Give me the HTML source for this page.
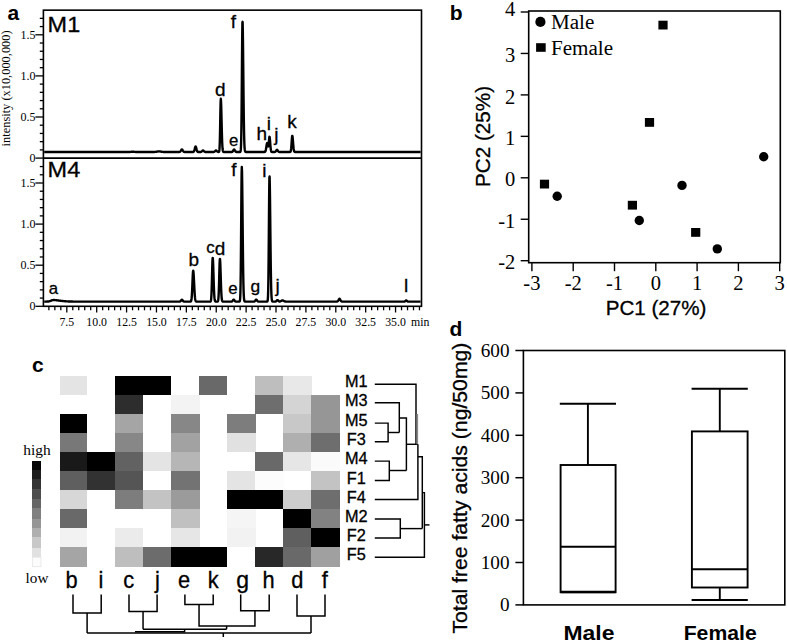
<!DOCTYPE html>
<html><head><meta charset="utf-8"><style>
html,body{margin:0;padding:0;background:#fff;width:787px;height:642px;overflow:hidden}
svg{display:block}
</style></head><body>
<svg width="787" height="642" viewBox="0 0 787 642">
<rect width="787" height="642" fill="#fff"/>
<text x="7.60" y="19.60" font-family='"Liberation Sans", sans-serif' font-size="21" text-anchor="start" font-weight="bold" >a</text>
<rect x="43.4" y="10.15" width="378.10" height="296.15" fill="none" stroke="#000" stroke-width="1.6"/>
<line x1="43.40" y1="158.10" x2="421.50" y2="158.10" stroke="#000" stroke-width="1.9"/>
<line x1="35.40" y1="158.10" x2="43.40" y2="158.10" stroke="#000" stroke-width="1.3"/>
<line x1="39.80" y1="149.88" x2="43.40" y2="149.88" stroke="#000" stroke-width="1.3"/>
<line x1="39.80" y1="141.66" x2="43.40" y2="141.66" stroke="#000" stroke-width="1.3"/>
<line x1="39.80" y1="133.44" x2="43.40" y2="133.44" stroke="#000" stroke-width="1.3"/>
<line x1="39.80" y1="125.22" x2="43.40" y2="125.22" stroke="#000" stroke-width="1.3"/>
<line x1="35.40" y1="117.00" x2="43.40" y2="117.00" stroke="#000" stroke-width="1.3"/>
<line x1="39.80" y1="108.78" x2="43.40" y2="108.78" stroke="#000" stroke-width="1.3"/>
<line x1="39.80" y1="100.56" x2="43.40" y2="100.56" stroke="#000" stroke-width="1.3"/>
<line x1="39.80" y1="92.34" x2="43.40" y2="92.34" stroke="#000" stroke-width="1.3"/>
<line x1="39.80" y1="84.12" x2="43.40" y2="84.12" stroke="#000" stroke-width="1.3"/>
<line x1="35.40" y1="75.90" x2="43.40" y2="75.90" stroke="#000" stroke-width="1.3"/>
<line x1="39.80" y1="67.68" x2="43.40" y2="67.68" stroke="#000" stroke-width="1.3"/>
<line x1="39.80" y1="59.46" x2="43.40" y2="59.46" stroke="#000" stroke-width="1.3"/>
<line x1="39.80" y1="51.24" x2="43.40" y2="51.24" stroke="#000" stroke-width="1.3"/>
<line x1="39.80" y1="43.02" x2="43.40" y2="43.02" stroke="#000" stroke-width="1.3"/>
<line x1="35.40" y1="34.80" x2="43.40" y2="34.80" stroke="#000" stroke-width="1.3"/>
<line x1="39.80" y1="26.58" x2="43.40" y2="26.58" stroke="#000" stroke-width="1.3"/>
<line x1="39.80" y1="18.36" x2="43.40" y2="18.36" stroke="#000" stroke-width="1.3"/>
<text x="35.60" y="162.10" font-family='"Liberation Serif", serif' font-size="12" text-anchor="end" font-weight="normal" >0</text>
<text x="35.60" y="121.00" font-family='"Liberation Serif", serif' font-size="12" text-anchor="end" font-weight="normal" >0.5</text>
<text x="35.60" y="79.90" font-family='"Liberation Serif", serif' font-size="12" text-anchor="end" font-weight="normal" >1.0</text>
<text x="35.60" y="38.80" font-family='"Liberation Serif", serif' font-size="12" text-anchor="end" font-weight="normal" >1.5</text>
<line x1="35.40" y1="306.30" x2="43.40" y2="306.30" stroke="#000" stroke-width="1.3"/>
<line x1="39.80" y1="298.08" x2="43.40" y2="298.08" stroke="#000" stroke-width="1.3"/>
<line x1="39.80" y1="289.86" x2="43.40" y2="289.86" stroke="#000" stroke-width="1.3"/>
<line x1="39.80" y1="281.64" x2="43.40" y2="281.64" stroke="#000" stroke-width="1.3"/>
<line x1="39.80" y1="273.42" x2="43.40" y2="273.42" stroke="#000" stroke-width="1.3"/>
<line x1="35.40" y1="265.20" x2="43.40" y2="265.20" stroke="#000" stroke-width="1.3"/>
<line x1="39.80" y1="256.98" x2="43.40" y2="256.98" stroke="#000" stroke-width="1.3"/>
<line x1="39.80" y1="248.76" x2="43.40" y2="248.76" stroke="#000" stroke-width="1.3"/>
<line x1="39.80" y1="240.54" x2="43.40" y2="240.54" stroke="#000" stroke-width="1.3"/>
<line x1="39.80" y1="232.32" x2="43.40" y2="232.32" stroke="#000" stroke-width="1.3"/>
<line x1="35.40" y1="224.10" x2="43.40" y2="224.10" stroke="#000" stroke-width="1.3"/>
<line x1="39.80" y1="215.88" x2="43.40" y2="215.88" stroke="#000" stroke-width="1.3"/>
<line x1="39.80" y1="207.66" x2="43.40" y2="207.66" stroke="#000" stroke-width="1.3"/>
<line x1="39.80" y1="199.44" x2="43.40" y2="199.44" stroke="#000" stroke-width="1.3"/>
<line x1="39.80" y1="191.22" x2="43.40" y2="191.22" stroke="#000" stroke-width="1.3"/>
<line x1="35.40" y1="183.00" x2="43.40" y2="183.00" stroke="#000" stroke-width="1.3"/>
<line x1="39.80" y1="174.78" x2="43.40" y2="174.78" stroke="#000" stroke-width="1.3"/>
<line x1="39.80" y1="166.56" x2="43.40" y2="166.56" stroke="#000" stroke-width="1.3"/>
<text x="35.60" y="310.30" font-family='"Liberation Serif", serif' font-size="12" text-anchor="end" font-weight="normal" >0</text>
<text x="35.60" y="269.20" font-family='"Liberation Serif", serif' font-size="12" text-anchor="end" font-weight="normal" >0.5</text>
<text x="35.60" y="228.10" font-family='"Liberation Serif", serif' font-size="12" text-anchor="end" font-weight="normal" >1.0</text>
<text x="35.60" y="187.00" font-family='"Liberation Serif", serif' font-size="12" text-anchor="end" font-weight="normal" >1.5</text>
<text transform="translate(9.8,88.4) rotate(-90)" x="0" y="0" font-family='"Liberation Serif", serif' font-size="12" text-anchor="middle" textLength="116" lengthAdjust="spacingAndGlyphs">intensity (x10,000,000)</text>
<line x1="48.87" y1="306.30" x2="48.87" y2="310.30" stroke="#000" stroke-width="1.3"/>
<line x1="54.84" y1="306.30" x2="54.84" y2="310.30" stroke="#000" stroke-width="1.3"/>
<line x1="60.82" y1="306.30" x2="60.82" y2="310.30" stroke="#000" stroke-width="1.3"/>
<line x1="66.80" y1="306.30" x2="66.80" y2="312.50" stroke="#000" stroke-width="1.3"/>
<line x1="72.78" y1="306.30" x2="72.78" y2="310.30" stroke="#000" stroke-width="1.3"/>
<line x1="78.75" y1="306.30" x2="78.75" y2="310.30" stroke="#000" stroke-width="1.3"/>
<line x1="84.73" y1="306.30" x2="84.73" y2="310.30" stroke="#000" stroke-width="1.3"/>
<line x1="90.71" y1="306.30" x2="90.71" y2="310.30" stroke="#000" stroke-width="1.3"/>
<line x1="96.69" y1="306.30" x2="96.69" y2="312.50" stroke="#000" stroke-width="1.3"/>
<line x1="102.66" y1="306.30" x2="102.66" y2="310.30" stroke="#000" stroke-width="1.3"/>
<line x1="108.64" y1="306.30" x2="108.64" y2="310.30" stroke="#000" stroke-width="1.3"/>
<line x1="114.62" y1="306.30" x2="114.62" y2="310.30" stroke="#000" stroke-width="1.3"/>
<line x1="120.60" y1="306.30" x2="120.60" y2="310.30" stroke="#000" stroke-width="1.3"/>
<line x1="126.57" y1="306.30" x2="126.57" y2="312.50" stroke="#000" stroke-width="1.3"/>
<line x1="132.55" y1="306.30" x2="132.55" y2="310.30" stroke="#000" stroke-width="1.3"/>
<line x1="138.53" y1="306.30" x2="138.53" y2="310.30" stroke="#000" stroke-width="1.3"/>
<line x1="144.51" y1="306.30" x2="144.51" y2="310.30" stroke="#000" stroke-width="1.3"/>
<line x1="150.49" y1="306.30" x2="150.49" y2="310.30" stroke="#000" stroke-width="1.3"/>
<line x1="156.46" y1="306.30" x2="156.46" y2="312.50" stroke="#000" stroke-width="1.3"/>
<line x1="162.44" y1="306.30" x2="162.44" y2="310.30" stroke="#000" stroke-width="1.3"/>
<line x1="168.42" y1="306.30" x2="168.42" y2="310.30" stroke="#000" stroke-width="1.3"/>
<line x1="174.39" y1="306.30" x2="174.39" y2="310.30" stroke="#000" stroke-width="1.3"/>
<line x1="180.37" y1="306.30" x2="180.37" y2="310.30" stroke="#000" stroke-width="1.3"/>
<line x1="186.35" y1="306.30" x2="186.35" y2="312.50" stroke="#000" stroke-width="1.3"/>
<line x1="192.33" y1="306.30" x2="192.33" y2="310.30" stroke="#000" stroke-width="1.3"/>
<line x1="198.31" y1="306.30" x2="198.31" y2="310.30" stroke="#000" stroke-width="1.3"/>
<line x1="204.28" y1="306.30" x2="204.28" y2="310.30" stroke="#000" stroke-width="1.3"/>
<line x1="210.26" y1="306.30" x2="210.26" y2="310.30" stroke="#000" stroke-width="1.3"/>
<line x1="216.24" y1="306.30" x2="216.24" y2="312.50" stroke="#000" stroke-width="1.3"/>
<line x1="222.21" y1="306.30" x2="222.21" y2="310.30" stroke="#000" stroke-width="1.3"/>
<line x1="228.19" y1="306.30" x2="228.19" y2="310.30" stroke="#000" stroke-width="1.3"/>
<line x1="234.17" y1="306.30" x2="234.17" y2="310.30" stroke="#000" stroke-width="1.3"/>
<line x1="240.15" y1="306.30" x2="240.15" y2="310.30" stroke="#000" stroke-width="1.3"/>
<line x1="246.12" y1="306.30" x2="246.12" y2="312.50" stroke="#000" stroke-width="1.3"/>
<line x1="252.10" y1="306.30" x2="252.10" y2="310.30" stroke="#000" stroke-width="1.3"/>
<line x1="258.08" y1="306.30" x2="258.08" y2="310.30" stroke="#000" stroke-width="1.3"/>
<line x1="264.06" y1="306.30" x2="264.06" y2="310.30" stroke="#000" stroke-width="1.3"/>
<line x1="270.04" y1="306.30" x2="270.04" y2="310.30" stroke="#000" stroke-width="1.3"/>
<line x1="276.01" y1="306.30" x2="276.01" y2="312.50" stroke="#000" stroke-width="1.3"/>
<line x1="281.99" y1="306.30" x2="281.99" y2="310.30" stroke="#000" stroke-width="1.3"/>
<line x1="287.97" y1="306.30" x2="287.97" y2="310.30" stroke="#000" stroke-width="1.3"/>
<line x1="293.94" y1="306.30" x2="293.94" y2="310.30" stroke="#000" stroke-width="1.3"/>
<line x1="299.92" y1="306.30" x2="299.92" y2="310.30" stroke="#000" stroke-width="1.3"/>
<line x1="305.90" y1="306.30" x2="305.90" y2="312.50" stroke="#000" stroke-width="1.3"/>
<line x1="311.88" y1="306.30" x2="311.88" y2="310.30" stroke="#000" stroke-width="1.3"/>
<line x1="317.86" y1="306.30" x2="317.86" y2="310.30" stroke="#000" stroke-width="1.3"/>
<line x1="323.83" y1="306.30" x2="323.83" y2="310.30" stroke="#000" stroke-width="1.3"/>
<line x1="329.81" y1="306.30" x2="329.81" y2="310.30" stroke="#000" stroke-width="1.3"/>
<line x1="335.79" y1="306.30" x2="335.79" y2="312.50" stroke="#000" stroke-width="1.3"/>
<line x1="341.76" y1="306.30" x2="341.76" y2="310.30" stroke="#000" stroke-width="1.3"/>
<line x1="347.74" y1="306.30" x2="347.74" y2="310.30" stroke="#000" stroke-width="1.3"/>
<line x1="353.72" y1="306.30" x2="353.72" y2="310.30" stroke="#000" stroke-width="1.3"/>
<line x1="359.70" y1="306.30" x2="359.70" y2="310.30" stroke="#000" stroke-width="1.3"/>
<line x1="365.68" y1="306.30" x2="365.68" y2="312.50" stroke="#000" stroke-width="1.3"/>
<line x1="371.65" y1="306.30" x2="371.65" y2="310.30" stroke="#000" stroke-width="1.3"/>
<line x1="377.63" y1="306.30" x2="377.63" y2="310.30" stroke="#000" stroke-width="1.3"/>
<line x1="383.61" y1="306.30" x2="383.61" y2="310.30" stroke="#000" stroke-width="1.3"/>
<line x1="389.59" y1="306.30" x2="389.59" y2="310.30" stroke="#000" stroke-width="1.3"/>
<line x1="395.56" y1="306.30" x2="395.56" y2="312.50" stroke="#000" stroke-width="1.3"/>
<line x1="401.54" y1="306.30" x2="401.54" y2="310.30" stroke="#000" stroke-width="1.3"/>
<line x1="407.52" y1="306.30" x2="407.52" y2="310.30" stroke="#000" stroke-width="1.3"/>
<line x1="413.50" y1="306.30" x2="413.50" y2="310.30" stroke="#000" stroke-width="1.3"/>
<line x1="419.47" y1="306.30" x2="419.47" y2="310.30" stroke="#000" stroke-width="1.3"/>
<text x="66.80" y="325.80" font-family='"Liberation Serif", serif' font-size="11.8" text-anchor="middle" font-weight="normal" >7.5</text>
<text x="96.69" y="325.80" font-family='"Liberation Serif", serif' font-size="11.8" text-anchor="middle" font-weight="normal" >10.0</text>
<text x="126.57" y="325.80" font-family='"Liberation Serif", serif' font-size="11.8" text-anchor="middle" font-weight="normal" >12.5</text>
<text x="156.46" y="325.80" font-family='"Liberation Serif", serif' font-size="11.8" text-anchor="middle" font-weight="normal" >15.0</text>
<text x="186.35" y="325.80" font-family='"Liberation Serif", serif' font-size="11.8" text-anchor="middle" font-weight="normal" >17.5</text>
<text x="216.24" y="325.80" font-family='"Liberation Serif", serif' font-size="11.8" text-anchor="middle" font-weight="normal" >20.0</text>
<text x="246.12" y="325.80" font-family='"Liberation Serif", serif' font-size="11.8" text-anchor="middle" font-weight="normal" >22.5</text>
<text x="276.01" y="325.80" font-family='"Liberation Serif", serif' font-size="11.8" text-anchor="middle" font-weight="normal" >25.0</text>
<text x="305.90" y="325.80" font-family='"Liberation Serif", serif' font-size="11.8" text-anchor="middle" font-weight="normal" >27.5</text>
<text x="335.79" y="325.80" font-family='"Liberation Serif", serif' font-size="11.8" text-anchor="middle" font-weight="normal" >30.0</text>
<text x="365.68" y="325.80" font-family='"Liberation Serif", serif' font-size="11.8" text-anchor="middle" font-weight="normal" >32.5</text>
<text x="395.56" y="325.80" font-family='"Liberation Serif", serif' font-size="11.8" text-anchor="middle" font-weight="normal" >35.0</text>
<text x="411.00" y="325.80" font-family='"Liberation Serif", serif' font-size="11.8" text-anchor="start" font-weight="normal" >min</text>
<polyline points="44.20,152.00 44.40,152.00 44.60,152.00 44.80,152.00 45.00,152.00 45.20,152.00 45.40,152.00 45.60,152.00 45.80,152.00 46.00,152.00 46.20,152.00 46.40,152.00 46.60,152.00 46.80,152.00 47.00,152.00 47.20,152.00 47.40,152.00 47.60,152.00 47.80,152.00 48.00,152.00 48.20,152.00 48.40,152.00 48.60,152.00 48.80,152.00 49.00,152.00 49.20,152.00 49.40,152.00 49.60,152.00 49.80,152.00 50.00,152.00 50.20,152.00 50.40,152.00 50.60,152.00 50.80,152.00 51.00,152.00 51.20,152.00 51.40,152.00 51.60,152.00 51.80,152.00 52.00,152.00 52.20,152.00 52.40,152.00 52.60,152.00 52.80,152.00 53.00,152.00 53.20,152.00 53.40,152.00 53.60,152.00 53.80,152.00 54.00,152.00 54.20,152.00 54.40,152.00 54.60,152.00 54.80,152.00 55.00,152.00 55.20,152.00 55.40,152.00 55.60,152.00 55.80,152.00 56.00,152.00 56.20,152.00 56.40,152.00 56.60,152.00 56.80,152.00 57.00,152.00 57.20,152.00 57.40,152.00 57.60,152.00 57.80,152.00 58.00,152.00 58.20,152.00 58.40,152.00 58.60,152.00 58.80,152.00 59.00,152.00 59.20,152.00 59.40,152.00 59.60,152.00 59.80,152.00 60.00,152.00 60.20,152.00 60.40,152.00 60.60,152.00 60.80,152.00 61.00,152.00 61.20,152.00 61.40,152.00 61.60,152.00 61.80,152.00 62.00,152.00 62.20,152.00 62.40,152.00 62.60,152.00 62.80,152.00 63.00,152.00 63.20,152.00 63.40,152.00 63.60,152.00 63.80,152.00 64.00,152.00 64.20,152.00 64.40,152.00 64.60,152.00 64.80,152.00 65.00,152.00 65.20,152.00 65.40,152.00 65.60,152.00 65.80,152.00 66.00,152.00 66.20,152.00 66.40,152.00 66.60,152.00 66.80,152.00 67.00,152.00 67.20,152.00 67.40,152.00 67.60,152.00 67.80,152.00 68.00,152.00 68.20,152.00 68.40,152.00 68.60,152.00 68.80,152.00 69.00,152.00 69.20,152.00 69.40,152.00 69.60,152.00 69.80,152.00 70.00,152.00 70.20,152.00 70.40,152.00 70.60,152.00 70.80,152.00 71.00,152.00 71.20,152.00 71.40,152.00 71.60,152.00 71.80,152.00 72.00,152.00 72.20,152.00 72.40,152.00 72.60,152.00 72.80,152.00 73.00,152.00 73.20,152.00 73.40,152.00 73.60,152.00 73.80,152.00 74.00,152.00 74.20,152.00 74.40,152.00 74.60,152.00 74.80,152.00 75.00,152.00 75.20,152.00 75.40,152.00 75.60,152.00 75.80,152.00 76.00,152.00 76.20,152.00 76.40,152.00 76.60,152.00 76.80,152.00 77.00,152.00 77.20,152.00 77.40,152.00 77.60,152.00 77.80,152.00 78.00,152.00 78.20,152.00 78.40,152.00 78.60,152.00 78.80,152.00 79.00,152.00 79.20,152.00 79.40,152.00 79.60,152.00 79.80,152.00 80.00,152.00 80.20,152.00 80.40,152.00 80.60,152.00 80.80,152.00 81.00,152.00 81.20,152.00 81.40,152.00 81.60,152.00 81.80,152.00 82.00,152.00 82.20,152.00 82.40,152.00 82.60,152.00 82.80,152.00 83.00,152.00 83.20,152.00 83.40,152.00 83.60,152.00 83.80,152.00 84.00,152.00 84.20,152.00 84.40,152.00 84.60,152.00 84.80,152.00 85.00,152.00 85.20,152.00 85.40,152.00 85.60,152.00 85.80,152.00 86.00,152.00 86.20,152.00 86.40,152.00 86.60,152.00 86.80,152.00 87.00,152.00 87.20,152.00 87.40,152.00 87.60,152.00 87.80,152.00 88.00,152.00 88.20,152.00 88.40,152.00 88.60,152.00 88.80,152.00 89.00,152.00 89.20,152.00 89.40,152.00 89.60,152.00 89.80,152.00 90.00,152.00 90.20,152.00 90.40,152.00 90.60,152.00 90.80,152.00 91.00,152.00 91.20,152.00 91.40,152.00 91.60,152.00 91.80,152.00 92.00,152.00 92.20,152.00 92.40,152.00 92.60,152.00 92.80,152.00 93.00,152.00 93.20,152.00 93.40,152.00 93.60,152.00 93.80,152.00 94.00,152.00 94.20,152.00 94.40,152.00 94.60,152.00 94.80,152.00 95.00,152.00 95.20,152.00 95.40,152.00 95.60,152.00 95.80,152.00 96.00,152.00 96.20,152.00 96.40,152.00 96.60,152.00 96.80,152.00 97.00,152.00 97.20,152.00 97.40,152.00 97.60,152.00 97.80,152.00 98.00,152.00 98.20,152.00 98.40,152.00 98.60,152.00 98.80,152.00 99.00,152.00 99.20,152.00 99.40,152.00 99.60,152.00 99.80,152.00 100.00,152.00 100.20,152.00 100.40,152.00 100.60,152.00 100.80,152.00 101.00,152.00 101.20,152.00 101.40,152.00 101.60,152.00 101.80,152.00 102.00,152.00 102.20,152.00 102.40,152.00 102.60,152.00 102.80,152.00 103.00,152.00 103.20,152.00 103.40,152.00 103.60,152.00 103.80,152.00 104.00,152.00 104.20,152.00 104.40,152.00 104.60,152.00 104.80,152.00 105.00,152.00 105.20,152.00 105.40,152.00 105.60,152.00 105.80,152.00 106.00,152.00 106.20,152.00 106.40,152.00 106.60,152.00 106.80,152.00 107.00,152.00 107.20,152.00 107.40,152.00 107.60,152.00 107.80,152.00 108.00,152.00 108.20,152.00 108.40,152.00 108.60,152.00 108.80,152.00 109.00,152.00 109.20,152.00 109.40,152.00 109.60,152.00 109.80,152.00 110.00,152.00 110.20,152.00 110.40,152.00 110.60,152.00 110.80,152.00 111.00,152.00 111.20,152.00 111.40,152.00 111.60,152.00 111.80,152.00 112.00,152.00 112.20,152.00 112.40,152.00 112.60,152.00 112.80,152.00 113.00,152.00 113.20,152.00 113.40,152.00 113.60,152.00 113.80,152.00 114.00,152.00 114.20,152.00 114.40,152.00 114.60,152.00 114.80,152.00 115.00,152.00 115.20,152.00 115.40,152.00 115.60,152.00 115.80,152.00 116.00,152.00 116.20,152.00 116.40,152.00 116.60,152.00 116.80,152.00 117.00,152.00 117.20,152.00 117.40,152.00 117.60,152.00 117.80,152.00 118.00,152.00 118.20,152.00 118.40,152.00 118.60,152.00 118.80,152.00 119.00,152.00 119.20,152.00 119.40,152.00 119.60,152.00 119.80,152.00 120.00,152.00 120.20,152.00 120.40,152.00 120.60,152.00 120.80,152.00 121.00,152.00 121.20,152.00 121.40,152.00 121.60,152.00 121.80,152.00 122.00,152.00 122.20,152.00 122.40,152.00 122.60,152.00 122.80,152.00 123.00,152.00 123.20,152.00 123.40,152.00 123.60,152.00 123.80,152.00 124.00,152.00 124.20,152.00 124.40,152.00 124.60,152.00 124.80,152.00 125.00,152.00 125.20,152.00 125.40,152.00 125.60,152.00 125.80,152.00 126.00,152.00 126.20,152.00 126.40,152.00 126.60,152.00 126.80,152.00 127.00,152.00 127.20,152.00 127.40,152.00 127.60,152.00 127.80,152.00 128.00,152.00 128.20,152.00 128.40,152.00 128.60,151.99 128.80,151.99 129.00,151.99 129.20,151.98 129.40,151.97 129.60,151.96 129.80,151.95 130.00,151.94 130.20,151.93 130.40,151.91 130.60,151.89 130.80,151.87 131.00,151.84 131.20,151.82 131.40,151.79 131.60,151.77 131.80,151.75 132.00,151.73 132.20,151.72 132.40,151.71 132.60,151.70 132.80,151.70 133.00,151.71 133.20,151.72 133.40,151.73 133.60,151.75 133.80,151.77 134.00,151.79 134.20,151.82 134.40,151.84 134.60,151.87 134.80,151.89 135.00,151.91 135.20,151.93 135.40,151.94 135.60,151.95 135.80,151.96 136.00,151.97 136.20,151.98 136.40,151.99 136.60,151.99 136.80,151.99 137.00,152.00 137.20,152.00 137.40,152.00 137.60,152.00 137.80,152.00 138.00,152.00 138.20,152.00 138.40,152.00 138.60,152.00 138.80,152.00 139.00,152.00 139.20,152.00 139.40,152.00 139.60,152.00 139.80,152.00 140.00,152.00 140.20,152.00 140.40,152.00 140.60,152.00 140.80,152.00 141.00,152.00 141.20,152.00 141.40,152.00 141.60,152.00 141.80,152.00 142.00,152.00 142.20,152.00 142.40,152.00 142.60,152.00 142.80,152.00 143.00,152.00 143.20,152.00 143.40,152.00 143.60,152.00 143.80,152.00 144.00,152.00 144.20,152.00 144.40,152.00 144.60,152.00 144.80,152.00 145.00,152.00 145.20,152.00 145.40,152.00 145.60,152.00 145.80,152.00 146.00,152.00 146.20,152.00 146.40,152.00 146.60,152.00 146.80,152.00 147.00,152.00 147.20,152.00 147.40,152.00 147.60,152.00 147.80,152.00 148.00,152.00 148.20,152.00 148.40,152.00 148.60,152.00 148.80,152.00 149.00,152.00 149.20,152.00 149.40,152.00 149.60,152.00 149.80,152.00 150.00,152.00 150.20,152.00 150.40,152.00 150.60,152.00 150.80,152.00 151.00,152.00 151.20,152.00 151.40,152.00 151.60,152.00 151.80,152.00 152.00,152.00 152.20,152.00 152.40,152.00 152.60,152.00 152.80,152.00 153.00,151.99 153.20,151.99 153.40,151.99 153.60,151.98 153.80,151.98 154.00,151.97 154.20,151.97 154.40,151.96 154.60,151.95 154.80,151.93 155.00,151.92 155.20,151.90 155.40,151.88 155.60,151.86 155.80,151.83 156.00,151.81 156.20,151.77 156.40,151.74 156.60,151.71 156.80,151.67 157.00,151.64 157.20,151.60 157.40,151.56 157.60,151.53 157.80,151.50 158.00,151.47 158.20,151.45 158.40,151.43 158.60,151.41 158.80,151.40 159.00,151.40 159.20,151.40 159.40,151.41 159.60,151.43 159.80,151.45 160.00,151.47 160.20,151.50 160.40,151.53 160.60,151.56 160.80,151.60 161.00,151.64 161.20,151.67 161.40,151.71 161.60,151.74 161.80,151.77 162.00,151.81 162.20,151.83 162.40,151.86 162.60,151.88 162.80,151.90 163.00,151.92 163.20,151.93 163.40,151.95 163.60,151.96 163.80,151.97 164.00,151.97 164.20,151.98 164.40,151.98 164.60,151.99 164.80,151.99 165.00,151.99 165.20,152.00 165.40,152.00 165.60,152.00 165.80,152.00 166.00,152.00 166.20,152.00 166.40,152.00 166.60,152.00 166.80,152.00 167.00,152.00 167.20,152.00 167.40,152.00 167.60,152.00 167.80,152.00 168.00,152.00 168.20,152.00 168.40,152.00 168.60,152.00 168.80,152.00 169.00,152.00 169.20,152.00 169.40,152.00 169.60,152.00 169.80,152.00 170.00,152.00 170.20,152.00 170.40,152.00 170.60,152.00 170.80,152.00 171.00,152.00 171.20,152.00 171.40,152.00 171.60,152.00 171.80,152.00 172.00,152.00 172.20,152.00 172.40,152.00 172.60,152.00 172.80,152.00 173.00,152.00 173.20,152.00 173.40,152.00 173.60,152.00 173.80,152.00 174.00,152.00 174.20,152.00 174.40,152.00 174.60,152.00 174.80,152.00 175.00,152.00 175.20,152.00 175.40,152.00 175.60,152.00 175.80,152.00 176.00,152.00 176.20,152.00 176.40,152.00 176.60,152.00 176.80,152.00 177.00,152.00 177.20,152.00 177.40,152.00 177.60,152.00 177.80,152.00 178.00,152.00 178.20,152.00 178.40,152.00 178.60,152.00 178.80,151.99 179.00,151.99 179.20,151.97 179.40,151.95 179.60,151.90 179.80,151.84 180.00,151.73 180.20,151.58 180.40,151.38 180.60,151.12 180.80,150.82 181.00,150.48 181.20,150.15 181.40,149.86 181.60,149.64 181.80,149.52 182.00,149.52 182.20,149.64 182.40,149.86 182.60,150.15 182.80,150.48 183.00,150.82 183.20,151.12 183.40,151.38 183.60,151.58 183.80,151.73 184.00,151.84 184.20,151.90 184.40,151.95 184.60,151.97 184.80,151.99 185.00,151.99 185.20,152.00 185.40,152.00 185.60,152.00 185.80,152.00 186.00,152.00 186.20,152.00 186.40,152.00 186.60,152.00 186.80,152.00 187.00,152.00 187.20,152.00 187.40,152.00 187.60,152.00 187.80,152.00 188.00,152.00 188.20,152.00 188.40,152.00 188.60,152.00 188.80,152.00 189.00,152.00 189.20,152.00 189.40,152.00 189.60,152.00 189.80,152.00 190.00,152.00 190.20,152.00 190.40,152.00 190.60,152.00 190.80,152.00 191.00,152.00 191.20,152.00 191.40,152.00 191.60,152.00 191.80,152.00 192.00,152.00 192.20,152.00 192.40,152.00 192.60,152.00 192.80,151.99 193.00,151.97 193.20,151.94 193.40,151.87 193.60,151.76 193.80,151.56 194.00,151.26 194.20,150.81 194.40,150.21 194.60,149.48 194.80,148.66 195.00,147.85 195.20,147.15 195.40,146.67 195.60,146.50 195.80,146.67 196.00,147.15 196.20,147.85 196.40,148.66 196.60,149.48 196.80,150.21 197.00,150.81 197.20,151.26 197.40,151.56 197.60,151.76 197.80,151.87 198.00,151.94 198.20,151.97 198.40,151.99 198.60,152.00 198.80,152.00 199.00,152.00 199.20,152.00 199.40,152.00 199.60,152.00 199.80,152.00 200.00,151.99 200.20,151.99 200.40,151.98 200.60,151.96 200.80,151.92 201.00,151.87 201.20,151.80 201.40,151.69 201.60,151.55 201.80,151.38 202.00,151.19 202.20,150.99 202.40,150.80 202.60,150.64 202.80,150.54 203.00,150.50 203.20,150.54 203.40,150.64 203.60,150.80 203.80,150.99 204.00,151.19 204.20,151.38 204.40,151.55 204.60,151.69 204.80,151.80 205.00,151.87 205.20,151.92 205.40,151.96 205.60,151.98 205.80,151.99 206.00,151.99 206.20,152.00 206.40,152.00 206.60,152.00 206.80,152.00 207.00,152.00 207.20,152.00 207.40,152.00 207.60,152.00 207.80,152.00 208.00,152.00 208.20,152.00 208.40,152.00 208.60,152.00 208.80,152.00 209.00,152.00 209.20,152.00 209.40,152.00 209.60,152.00 209.80,152.00 210.00,152.00 210.20,152.00 210.40,152.00 210.60,152.00 210.80,152.00 211.00,152.00 211.20,152.00 211.40,152.00 211.60,152.00 211.80,152.00 212.00,152.00 212.20,152.00 212.40,152.00 212.60,152.00 212.80,152.00 213.00,151.99 213.20,151.99 213.40,151.98 213.60,151.96 213.80,151.92 214.00,151.87 214.20,151.80 214.40,151.69 214.60,151.55 214.80,151.38 215.00,151.19 215.20,150.99 215.40,150.80 215.60,150.64 215.80,150.54 216.00,150.50 216.20,150.54 216.40,150.64 216.60,150.80 216.80,150.99 217.00,151.19 217.20,151.38 217.40,151.55 217.60,151.69 217.80,151.80 218.00,151.87 218.20,151.92 218.40,151.95 218.60,151.96 218.80,151.92 219.00,151.74 219.20,151.22 219.40,149.91 219.60,147.08 219.80,141.81 220.00,133.53 220.20,122.66 220.40,111.16 220.60,102.20 220.80,98.80 221.00,100.66 221.20,105.85 221.40,113.37 221.60,121.88 221.80,130.13 222.00,137.21 222.20,142.68 222.40,146.53 222.60,149.01 222.80,150.48 223.00,151.28 223.20,151.68 223.40,151.87 223.60,151.95 223.80,151.98 224.00,151.99 224.20,152.00 224.40,152.00 224.60,152.00 224.80,152.00 225.00,152.00 225.20,152.00 225.40,152.00 225.60,152.00 225.80,152.00 226.00,152.00 226.20,152.00 226.40,152.00 226.60,152.00 226.80,152.00 227.00,152.00 227.20,152.00 227.40,152.00 227.60,152.00 227.80,152.00 228.00,152.00 228.20,152.00 228.40,152.00 228.60,152.00 228.80,152.00 229.00,152.00 229.20,152.00 229.40,152.00 229.60,152.00 229.80,152.00 230.00,152.00 230.20,152.00 230.40,152.00 230.60,152.00 230.80,152.00 231.00,152.00 231.20,152.00 231.40,151.99 231.60,151.98 231.80,151.96 232.00,151.92 232.20,151.85 232.40,151.74 232.60,151.57 232.80,151.33 233.00,151.03 233.20,150.67 233.40,150.30 233.60,149.94 233.80,149.67 234.00,149.52 234.20,149.52 234.40,149.67 234.60,149.94 234.80,150.30 235.00,150.67 235.20,151.03 235.40,151.33 235.60,151.57 235.80,151.74 236.00,151.85 236.20,151.92 236.40,151.96 236.60,151.98 236.80,151.99 237.00,152.00 237.20,152.00 237.40,152.00 237.60,152.00 237.80,152.00 238.00,152.00 238.20,152.00 238.40,152.00 238.60,152.00 238.80,152.00 239.00,152.00 239.20,152.00 239.40,152.00 239.60,152.00 239.80,151.99 240.00,151.98 240.20,151.92 240.40,151.71 240.60,151.13 240.80,149.63 241.00,146.24 241.20,139.45 241.40,127.56 241.60,109.41 241.80,85.57 242.00,59.29 242.20,36.22 242.40,22.61 242.60,21.82 242.80,29.71 243.00,44.08 243.20,62.53 243.40,82.32 243.60,101.02 243.80,116.96 244.00,129.38 244.20,138.28 244.40,144.18 244.60,147.82 244.80,149.90 245.00,151.01 245.20,151.56 245.40,151.82 245.60,151.93 245.80,151.97 246.00,151.99 246.20,152.00 246.40,152.00 246.60,152.00 246.80,152.00 247.00,152.00 247.20,152.00 247.40,152.00 247.60,152.00 247.80,152.00 248.00,152.00 248.20,152.00 248.40,152.00 248.60,152.00 248.80,152.00 249.00,152.00 249.20,152.00 249.40,152.00 249.60,152.00 249.80,152.00 250.00,152.00 250.20,152.00 250.40,152.00 250.60,152.00 250.80,152.00 251.00,152.00 251.20,152.00 251.40,152.00 251.60,152.00 251.80,152.00 252.00,152.00 252.20,152.00 252.40,152.00 252.60,152.00 252.80,152.00 253.00,152.00 253.20,152.00 253.40,152.00 253.60,152.00 253.80,152.00 254.00,152.00 254.20,152.00 254.40,152.00 254.60,152.00 254.80,152.00 255.00,152.00 255.20,152.00 255.40,152.00 255.60,152.00 255.80,152.00 256.00,152.00 256.20,152.00 256.40,152.00 256.60,152.00 256.80,152.00 257.00,152.00 257.20,152.00 257.40,152.00 257.60,152.00 257.80,152.00 258.00,152.00 258.20,152.00 258.40,152.00 258.60,152.00 258.80,152.00 259.00,152.00 259.20,152.00 259.40,152.00 259.60,152.00 259.80,152.00 260.00,152.00 260.20,152.00 260.40,152.00 260.60,152.00 260.80,152.00 261.00,152.00 261.20,152.00 261.40,152.00 261.60,152.00 261.80,152.00 262.00,152.00 262.20,152.00 262.40,152.00 262.60,152.00 262.80,152.00 263.00,152.00 263.20,152.00 263.40,152.00 263.60,152.00 263.80,152.00 264.00,152.00 264.20,151.99 264.40,151.98 264.60,151.95 264.80,151.90 265.00,151.79 265.20,151.60 265.40,151.28 265.60,150.78 265.80,150.05 266.00,149.08 266.20,147.88 266.40,146.54 266.60,145.21 266.80,144.06 267.00,143.27 267.20,142.99 267.40,143.24 267.60,143.96 267.80,144.93 268.00,145.87 268.20,146.43 268.40,146.25 268.60,145.12 268.80,143.09 269.00,140.54 269.20,138.19 269.40,136.80 269.60,136.85 269.80,138.09 270.00,140.20 270.20,142.77 270.40,145.35 270.60,147.58 270.80,149.29 271.00,150.47 271.20,151.20 271.40,151.62 271.60,151.83 271.80,151.93 272.00,151.97 272.20,151.99 272.40,152.00 272.60,152.00 272.80,152.00 273.00,152.00 273.20,152.00 273.40,152.00 273.60,152.00 273.80,152.00 274.00,152.00 274.20,152.00 274.40,151.99 274.60,151.98 274.80,151.95 275.00,151.90 275.20,151.82 275.40,151.70 275.60,151.52 275.80,151.29 276.00,150.99 276.20,150.67 276.40,150.34 276.60,150.06 276.80,149.87 277.00,149.80 277.20,149.87 277.40,150.06 277.60,150.34 277.80,150.67 278.00,150.99 278.20,151.29 278.40,151.52 278.60,151.70 278.80,151.82 279.00,151.90 279.20,151.95 279.40,151.98 279.60,151.99 279.80,152.00 280.00,152.00 280.20,152.00 280.40,152.00 280.60,152.00 280.80,152.00 281.00,152.00 281.20,152.00 281.40,152.00 281.60,152.00 281.80,152.00 282.00,152.00 282.20,152.00 282.40,152.00 282.60,152.00 282.80,152.00 283.00,152.00 283.20,152.00 283.40,152.00 283.60,152.00 283.80,152.00 284.00,152.00 284.20,152.00 284.40,152.00 284.60,152.00 284.80,152.00 285.00,152.00 285.20,152.00 285.40,152.00 285.60,152.00 285.80,152.00 286.00,152.00 286.20,152.00 286.40,152.00 286.60,152.00 286.80,152.00 287.00,152.00 287.20,152.00 287.40,152.00 287.60,152.00 287.80,152.00 288.00,152.00 288.20,152.00 288.40,152.00 288.60,152.00 288.80,152.00 289.00,152.00 289.20,152.00 289.40,152.00 289.60,152.00 289.80,151.99 290.00,151.97 290.20,151.91 290.40,151.77 290.60,151.47 290.80,150.87 291.00,149.81 291.20,148.13 291.40,145.79 291.60,142.93 291.80,139.95 292.00,137.44 292.20,135.99 292.40,135.94 292.60,137.05 292.80,139.03 293.00,141.52 293.20,144.11 293.40,146.47 293.60,148.39 293.80,149.81 294.00,150.76 294.20,151.35 294.40,151.68 294.60,151.85 294.80,151.94 295.00,151.98 295.20,151.99 295.40,152.00 295.60,152.00 295.80,152.00 296.00,152.00 296.20,152.00 296.40,152.00 296.60,152.00 296.80,152.00 297.00,152.00 297.20,152.00 297.40,152.00 297.60,152.00 297.80,152.00 298.00,152.00 298.20,152.00 298.40,152.00 298.60,152.00 298.80,152.00 299.00,152.00 299.20,152.00 299.40,152.00 299.60,152.00 299.80,152.00 300.00,152.00 300.20,152.00 300.40,152.00 300.60,152.00 300.80,152.00 301.00,152.00 301.20,152.00 301.40,152.00 301.60,152.00 301.80,152.00 302.00,152.00 302.20,152.00 302.40,152.00 302.60,152.00 302.80,152.00 303.00,152.00 303.20,152.00 303.40,152.00 303.60,152.00 303.80,152.00 304.00,152.00 304.20,152.00 304.40,152.00 304.60,152.00 304.80,152.00 305.00,152.00 305.20,152.00 305.40,152.00 305.60,152.00 305.80,152.00 306.00,152.00 306.20,152.00 306.40,152.00 306.60,152.00 306.80,152.00 307.00,152.00 307.20,152.00 307.40,152.00 307.60,152.00 307.80,152.00 308.00,152.00 308.20,152.00 308.40,152.00 308.60,152.00 308.80,152.00 309.00,152.00 309.20,152.00 309.40,152.00 309.60,152.00 309.80,152.00 310.00,152.00 310.20,152.00 310.40,152.00 310.60,152.00 310.80,152.00 311.00,152.00 311.20,152.00 311.40,152.00 311.60,152.00 311.80,152.00 312.00,152.00 312.20,152.00 312.40,152.00 312.60,152.00 312.80,152.00 313.00,152.00 313.20,152.00 313.40,152.00 313.60,152.00 313.80,152.00 314.00,152.00 314.20,152.00 314.40,152.00 314.60,152.00 314.80,152.00 315.00,152.00 315.20,152.00 315.40,152.00 315.60,152.00 315.80,152.00 316.00,152.00 316.20,152.00 316.40,152.00 316.60,152.00 316.80,152.00 317.00,152.00 317.20,152.00 317.40,152.00 317.60,152.00 317.80,152.00 318.00,152.00 318.20,152.00 318.40,152.00 318.60,152.00 318.80,152.00 319.00,152.00 319.20,152.00 319.40,152.00 319.60,152.00 319.80,152.00 320.00,152.00 320.20,152.00 320.40,152.00 320.60,152.00 320.80,152.00 321.00,152.00 321.20,152.00 321.40,152.00 321.60,152.00 321.80,152.00 322.00,152.00 322.20,152.00 322.40,152.00 322.60,152.00 322.80,152.00 323.00,152.00 323.20,152.00 323.40,152.00 323.60,152.00 323.80,152.00 324.00,152.00 324.20,152.00 324.40,152.00 324.60,152.00 324.80,152.00 325.00,152.00 325.20,152.00 325.40,152.00 325.60,152.00 325.80,152.00 326.00,152.00 326.20,152.00 326.40,152.00 326.60,152.00 326.80,152.00 327.00,152.00 327.20,152.00 327.40,152.00 327.60,152.00 327.80,152.00 328.00,152.00 328.20,152.00 328.40,152.00 328.60,152.00 328.80,152.00 329.00,152.00 329.20,152.00 329.40,152.00 329.60,152.00 329.80,152.00 330.00,152.00 330.20,152.00 330.40,152.00 330.60,152.00 330.80,152.00 331.00,152.00 331.20,152.00 331.40,152.00 331.60,152.00 331.80,152.00 332.00,152.00 332.20,152.00 332.40,152.00 332.60,152.00 332.80,152.00 333.00,152.00 333.20,152.00 333.40,152.00 333.60,152.00 333.80,152.00 334.00,152.00 334.20,152.00 334.40,152.00 334.60,152.00 334.80,152.00 335.00,152.00 335.20,152.00 335.40,152.00 335.60,152.00 335.80,152.00 336.00,152.00 336.20,152.00 336.40,152.00 336.60,152.00 336.80,152.00 337.00,152.00 337.20,152.00 337.40,152.00 337.60,152.00 337.80,152.00 338.00,152.00 338.20,152.00 338.40,152.00 338.60,152.00 338.80,152.00 339.00,152.00 339.20,152.00 339.40,152.00 339.60,152.00 339.80,152.00 340.00,152.00 340.20,152.00 340.40,152.00 340.60,152.00 340.80,152.00 341.00,152.00 341.20,152.00 341.40,152.00 341.60,152.00 341.80,152.00 342.00,152.00 342.20,152.00 342.40,152.00 342.60,152.00 342.80,152.00 343.00,152.00 343.20,152.00 343.40,152.00 343.60,152.00 343.80,152.00 344.00,152.00 344.20,152.00 344.40,152.00 344.60,152.00 344.80,152.00 345.00,152.00 345.20,152.00 345.40,152.00 345.60,152.00 345.80,152.00 346.00,152.00 346.20,152.00 346.40,152.00 346.60,152.00 346.80,152.00 347.00,152.00 347.20,152.00 347.40,152.00 347.60,152.00 347.80,152.00 348.00,152.00 348.20,152.00 348.40,152.00 348.60,152.00 348.80,152.00 349.00,152.00 349.20,152.00 349.40,152.00 349.60,152.00 349.80,152.00 350.00,152.00 350.20,152.00 350.40,152.00 350.60,152.00 350.80,152.00 351.00,152.00 351.20,152.00 351.40,152.00 351.60,152.00 351.80,152.00 352.00,152.00 352.20,152.00 352.40,152.00 352.60,152.00 352.80,152.00 353.00,152.00 353.20,152.00 353.40,152.00 353.60,152.00 353.80,152.00 354.00,152.00 354.20,152.00 354.40,152.00 354.60,152.00 354.80,152.00 355.00,152.00 355.20,152.00 355.40,152.00 355.60,152.00 355.80,152.00 356.00,152.00 356.20,152.00 356.40,152.00 356.60,152.00 356.80,152.00 357.00,152.00 357.20,152.00 357.40,152.00 357.60,152.00 357.80,152.00 358.00,152.00 358.20,152.00 358.40,152.00 358.60,152.00 358.80,152.00 359.00,152.00 359.20,152.00 359.40,152.00 359.60,152.00 359.80,152.00 360.00,152.00 360.20,152.00 360.40,152.00 360.60,152.00 360.80,152.00 361.00,152.00 361.20,152.00 361.40,152.00 361.60,152.00 361.80,152.00 362.00,152.00 362.20,152.00 362.40,152.00 362.60,152.00 362.80,152.00 363.00,152.00 363.20,152.00 363.40,152.00 363.60,152.00 363.80,152.00 364.00,152.00 364.20,152.00 364.40,152.00 364.60,152.00 364.80,152.00 365.00,152.00 365.20,152.00 365.40,152.00 365.60,152.00 365.80,152.00 366.00,152.00 366.20,152.00 366.40,152.00 366.60,152.00 366.80,152.00 367.00,152.00 367.20,152.00 367.40,152.00 367.60,152.00 367.80,152.00 368.00,152.00 368.20,152.00 368.40,152.00 368.60,152.00 368.80,152.00 369.00,152.00 369.20,152.00 369.40,152.00 369.60,152.00 369.80,152.00 370.00,152.00 370.20,152.00 370.40,152.00 370.60,152.00 370.80,152.00 371.00,152.00 371.20,152.00 371.40,152.00 371.60,152.00 371.80,152.00 372.00,152.00 372.20,152.00 372.40,152.00 372.60,152.00 372.80,152.00 373.00,152.00 373.20,152.00 373.40,152.00 373.60,152.00 373.80,152.00 374.00,152.00 374.20,152.00 374.40,152.00 374.60,152.00 374.80,152.00 375.00,152.00 375.20,152.00 375.40,152.00 375.60,152.00 375.80,152.00 376.00,152.00 376.20,152.00 376.40,152.00 376.60,152.00 376.80,152.00 377.00,152.00 377.20,152.00 377.40,152.00 377.60,152.00 377.80,152.00 378.00,152.00 378.20,152.00 378.40,152.00 378.60,152.00 378.80,152.00 379.00,152.00 379.20,152.00 379.40,152.00 379.60,152.00 379.80,152.00 380.00,152.00 380.20,152.00 380.40,152.00 380.60,152.00 380.80,152.00 381.00,152.00 381.20,152.00 381.40,152.00 381.60,152.00 381.80,152.00 382.00,152.00 382.20,152.00 382.40,152.00 382.60,152.00 382.80,152.00 383.00,152.00 383.20,152.00 383.40,152.00 383.60,152.00 383.80,152.00 384.00,152.00 384.20,152.00 384.40,152.00 384.60,152.00 384.80,152.00 385.00,152.00 385.20,152.00 385.40,152.00 385.60,152.00 385.80,152.00 386.00,152.00 386.20,152.00 386.40,152.00 386.60,152.00 386.80,152.00 387.00,152.00 387.20,152.00 387.40,152.00 387.60,152.00 387.80,152.00 388.00,152.00 388.20,152.00 388.40,152.00 388.60,152.00 388.80,152.00 389.00,152.00 389.20,152.00 389.40,152.00 389.60,152.00 389.80,152.00 390.00,152.00 390.20,152.00 390.40,152.00 390.60,152.00 390.80,152.00 391.00,152.00 391.20,152.00 391.40,152.00 391.60,152.00 391.80,152.00 392.00,152.00 392.20,152.00 392.40,152.00 392.60,152.00 392.80,152.00 393.00,152.00 393.20,152.00 393.40,152.00 393.60,152.00 393.80,152.00 394.00,152.00 394.20,152.00 394.40,152.00 394.60,152.00 394.80,152.00 395.00,152.00 395.20,152.00 395.40,152.00 395.60,152.00 395.80,152.00 396.00,152.00 396.20,152.00 396.40,152.00 396.60,152.00 396.80,152.00 397.00,152.00 397.20,152.00 397.40,152.00 397.60,152.00 397.80,152.00 398.00,152.00 398.20,152.00 398.40,152.00 398.60,152.00 398.80,152.00 399.00,152.00 399.20,152.00 399.40,152.00 399.60,152.00 399.80,152.00 400.00,152.00 400.20,152.00 400.40,152.00 400.60,152.00 400.80,152.00 401.00,152.00 401.20,152.00 401.40,152.00 401.60,152.00 401.80,152.00 402.00,152.00 402.20,152.00 402.40,152.00 402.60,152.00 402.80,152.00 403.00,152.00 403.20,152.00 403.40,152.00 403.60,152.00 403.80,152.00 404.00,152.00 404.20,152.00 404.40,152.00 404.60,152.00 404.80,152.00 405.00,152.00 405.20,152.00 405.40,152.00 405.60,152.00 405.80,152.00 406.00,152.00 406.20,152.00 406.40,152.00 406.60,152.00 406.80,152.00 407.00,152.00 407.20,152.00 407.40,152.00 407.60,152.00 407.80,152.00 408.00,152.00 408.20,152.00 408.40,152.00 408.60,152.00 408.80,152.00 409.00,152.00 409.20,152.00 409.40,152.00 409.60,152.00 409.80,152.00 410.00,152.00 410.20,152.00 410.40,152.00 410.60,152.00 410.80,152.00 411.00,152.00 411.20,152.00 411.40,152.00 411.60,152.00 411.80,152.00 412.00,152.00 412.20,152.00 412.40,152.00 412.60,152.00 412.80,152.00 413.00,152.00 413.20,152.00 413.40,152.00 413.60,152.00 413.80,152.00 414.00,152.00 414.20,152.00 414.40,152.00 414.60,152.00 414.80,152.00 415.00,152.00 415.20,152.00 415.40,152.00 415.60,152.00 415.80,152.00 416.00,152.00 416.20,152.00 416.40,152.00 416.60,152.00 416.80,152.00 417.00,152.00 417.20,152.00 417.40,152.00 417.60,152.00 417.80,152.00 418.00,152.00 418.20,152.00 418.40,152.00 418.60,152.00 418.80,152.00 419.00,152.00 419.20,152.00 419.40,152.00 419.60,152.00 419.80,152.00 420.00,152.00 420.20,152.00 420.40,152.00 420.60,152.00" fill="none" stroke="#000" stroke-width="2.4" stroke-linejoin="round"/>
<polyline points="44.20,301.60 44.40,301.60 44.60,301.59 44.80,301.59 45.00,301.59 45.20,301.59 45.40,301.59 45.60,301.59 45.80,301.59 46.00,301.59 46.20,301.58 46.40,301.58 46.60,301.58 46.80,301.57 47.00,301.57 47.20,301.56 47.40,301.55 47.60,301.54 47.80,301.53 48.00,301.51 48.20,301.49 48.40,301.47 48.60,301.44 48.80,301.41 49.00,301.37 49.20,301.33 49.40,301.28 49.60,301.22 49.80,301.16 50.00,301.10 50.20,301.02 50.40,300.95 50.60,300.86 50.80,300.78 51.00,300.69 51.20,300.61 51.40,300.52 51.60,300.44 51.80,300.36 52.00,300.29 52.20,300.22 52.40,300.17 52.60,300.13 52.80,300.09 53.00,300.07 53.20,300.06 53.40,300.06 53.60,300.05 53.80,300.05 54.00,300.05 54.20,300.05 54.40,300.06 54.60,300.07 54.80,300.08 55.00,300.09 55.20,300.10 55.40,300.12 55.60,300.14 55.80,300.16 56.00,300.18 56.20,300.21 56.40,300.23 56.60,300.26 56.80,300.28 57.00,300.31 57.20,300.34 57.40,300.37 57.60,300.39 57.80,300.42 58.00,300.45 58.20,300.48 58.40,300.51 58.60,300.54 58.80,300.56 59.00,300.59 59.20,300.62 59.40,300.64 59.60,300.67 59.80,300.69 60.00,300.72 60.20,300.74 60.40,300.77 60.60,300.79 60.80,300.81 61.00,300.84 61.20,300.86 61.40,300.88 61.60,300.90 61.80,300.92 62.00,300.94 62.20,300.96 62.40,300.98 62.60,301.00 62.80,301.02 63.00,301.04 63.20,301.06 63.40,301.08 63.60,301.10 63.80,301.12 64.00,301.13 64.20,301.15 64.40,301.17 64.60,301.19 64.80,301.20 65.00,301.22 65.20,301.24 65.40,301.25 65.60,301.27 65.80,301.29 66.00,301.30 66.20,301.32 66.40,301.33 66.60,301.34 66.80,301.36 67.00,301.37 67.20,301.38 67.40,301.40 67.60,301.41 67.80,301.42 68.00,301.43 68.20,301.44 68.40,301.45 68.60,301.46 68.80,301.47 69.00,301.48 69.20,301.49 69.40,301.50 69.60,301.50 69.80,301.51 70.00,301.52 70.20,301.52 70.40,301.53 70.60,301.54 70.80,301.54 71.00,301.55 71.20,301.55 71.40,301.56 71.60,301.56 71.80,301.56 72.00,301.57 72.20,301.57 72.40,301.57 72.60,301.57 72.80,301.58 73.00,301.58 73.20,301.58 73.40,301.58 73.60,301.59 73.80,301.59 74.00,301.59 74.20,301.59 74.40,301.59 74.60,301.59 74.80,301.59 75.00,301.59 75.20,301.59 75.40,301.59 75.60,301.60 75.80,301.60 76.00,301.60 76.20,301.60 76.40,301.60 76.60,301.60 76.80,301.60 77.00,301.60 77.20,301.60 77.40,301.60 77.60,301.60 77.80,301.60 78.00,301.60 78.20,301.60 78.40,301.60 78.60,301.60 78.80,301.60 79.00,301.60 79.20,301.60 79.40,301.60 79.60,301.60 79.80,301.60 80.00,301.60 80.20,301.60 80.40,301.60 80.60,301.60 80.80,301.60 81.00,301.60 81.20,301.60 81.40,301.60 81.60,301.60 81.80,301.60 82.00,301.60 82.20,301.60 82.40,301.60 82.60,301.60 82.80,301.60 83.00,301.60 83.20,301.60 83.40,301.60 83.60,301.60 83.80,301.60 84.00,301.60 84.20,301.60 84.40,301.60 84.60,301.60 84.80,301.60 85.00,301.60 85.20,301.60 85.40,301.60 85.60,301.60 85.80,301.60 86.00,301.60 86.20,301.60 86.40,301.60 86.60,301.60 86.80,301.60 87.00,301.60 87.20,301.60 87.40,301.60 87.60,301.60 87.80,301.60 88.00,301.60 88.20,301.60 88.40,301.60 88.60,301.60 88.80,301.60 89.00,301.60 89.20,301.60 89.40,301.60 89.60,301.60 89.80,301.60 90.00,301.60 90.20,301.60 90.40,301.60 90.60,301.60 90.80,301.60 91.00,301.60 91.20,301.60 91.40,301.60 91.60,301.60 91.80,301.60 92.00,301.60 92.20,301.60 92.40,301.60 92.60,301.60 92.80,301.60 93.00,301.60 93.20,301.60 93.40,301.60 93.60,301.60 93.80,301.60 94.00,301.60 94.20,301.60 94.40,301.60 94.60,301.60 94.80,301.60 95.00,301.60 95.20,301.60 95.40,301.60 95.60,301.60 95.80,301.60 96.00,301.60 96.20,301.60 96.40,301.60 96.60,301.60 96.80,301.60 97.00,301.60 97.20,301.60 97.40,301.60 97.60,301.60 97.80,301.60 98.00,301.60 98.20,301.60 98.40,301.60 98.60,301.60 98.80,301.60 99.00,301.60 99.20,301.60 99.40,301.60 99.60,301.60 99.80,301.60 100.00,301.60 100.20,301.60 100.40,301.60 100.60,301.60 100.80,301.60 101.00,301.60 101.20,301.60 101.40,301.60 101.60,301.60 101.80,301.60 102.00,301.60 102.20,301.60 102.40,301.60 102.60,301.60 102.80,301.60 103.00,301.60 103.20,301.60 103.40,301.60 103.60,301.60 103.80,301.60 104.00,301.60 104.20,301.60 104.40,301.60 104.60,301.60 104.80,301.60 105.00,301.60 105.20,301.60 105.40,301.60 105.60,301.60 105.80,301.60 106.00,301.60 106.20,301.60 106.40,301.60 106.60,301.60 106.80,301.60 107.00,301.60 107.20,301.60 107.40,301.60 107.60,301.60 107.80,301.60 108.00,301.60 108.20,301.60 108.40,301.60 108.60,301.60 108.80,301.60 109.00,301.60 109.20,301.60 109.40,301.60 109.60,301.60 109.80,301.60 110.00,301.60 110.20,301.60 110.40,301.60 110.60,301.60 110.80,301.60 111.00,301.60 111.20,301.60 111.40,301.60 111.60,301.60 111.80,301.60 112.00,301.60 112.20,301.60 112.40,301.60 112.60,301.60 112.80,301.60 113.00,301.60 113.20,301.60 113.40,301.60 113.60,301.60 113.80,301.60 114.00,301.60 114.20,301.60 114.40,301.60 114.60,301.60 114.80,301.60 115.00,301.60 115.20,301.60 115.40,301.60 115.60,301.60 115.80,301.60 116.00,301.60 116.20,301.60 116.40,301.60 116.60,301.60 116.80,301.60 117.00,301.60 117.20,301.60 117.40,301.60 117.60,301.60 117.80,301.60 118.00,301.60 118.20,301.60 118.40,301.60 118.60,301.60 118.80,301.60 119.00,301.60 119.20,301.60 119.40,301.60 119.60,301.60 119.80,301.60 120.00,301.60 120.20,301.60 120.40,301.60 120.60,301.60 120.80,301.60 121.00,301.60 121.20,301.60 121.40,301.60 121.60,301.60 121.80,301.60 122.00,301.60 122.20,301.60 122.40,301.60 122.60,301.60 122.80,301.60 123.00,301.60 123.20,301.60 123.40,301.60 123.60,301.60 123.80,301.60 124.00,301.60 124.20,301.60 124.40,301.60 124.60,301.60 124.80,301.60 125.00,301.60 125.20,301.60 125.40,301.60 125.60,301.60 125.80,301.60 126.00,301.60 126.20,301.60 126.40,301.60 126.60,301.60 126.80,301.60 127.00,301.60 127.20,301.60 127.40,301.60 127.60,301.60 127.80,301.60 128.00,301.60 128.20,301.60 128.40,301.60 128.60,301.60 128.80,301.60 129.00,301.60 129.20,301.60 129.40,301.60 129.60,301.60 129.80,301.60 130.00,301.60 130.20,301.60 130.40,301.60 130.60,301.60 130.80,301.60 131.00,301.60 131.20,301.60 131.40,301.60 131.60,301.60 131.80,301.60 132.00,301.60 132.20,301.60 132.40,301.60 132.60,301.60 132.80,301.60 133.00,301.60 133.20,301.60 133.40,301.60 133.60,301.60 133.80,301.60 134.00,301.60 134.20,301.60 134.40,301.60 134.60,301.60 134.80,301.60 135.00,301.60 135.20,301.60 135.40,301.60 135.60,301.60 135.80,301.60 136.00,301.60 136.20,301.60 136.40,301.60 136.60,301.60 136.80,301.60 137.00,301.60 137.20,301.60 137.40,301.60 137.60,301.60 137.80,301.60 138.00,301.60 138.20,301.60 138.40,301.60 138.60,301.60 138.80,301.60 139.00,301.60 139.20,301.60 139.40,301.60 139.60,301.60 139.80,301.60 140.00,301.60 140.20,301.60 140.40,301.60 140.60,301.60 140.80,301.60 141.00,301.60 141.20,301.60 141.40,301.60 141.60,301.60 141.80,301.60 142.00,301.60 142.20,301.60 142.40,301.60 142.60,301.60 142.80,301.60 143.00,301.60 143.20,301.60 143.40,301.60 143.60,301.60 143.80,301.60 144.00,301.60 144.20,301.60 144.40,301.60 144.60,301.60 144.80,301.60 145.00,301.60 145.20,301.60 145.40,301.60 145.60,301.60 145.80,301.60 146.00,301.60 146.20,301.60 146.40,301.60 146.60,301.60 146.80,301.60 147.00,301.60 147.20,301.60 147.40,301.60 147.60,301.60 147.80,301.60 148.00,301.60 148.20,301.60 148.40,301.60 148.60,301.60 148.80,301.60 149.00,301.60 149.20,301.60 149.40,301.60 149.60,301.60 149.80,301.60 150.00,301.60 150.20,301.60 150.40,301.60 150.60,301.60 150.80,301.60 151.00,301.60 151.20,301.60 151.40,301.60 151.60,301.60 151.80,301.60 152.00,301.60 152.20,301.60 152.40,301.60 152.60,301.60 152.80,301.60 153.00,301.60 153.20,301.60 153.40,301.60 153.60,301.60 153.80,301.60 154.00,301.60 154.20,301.60 154.40,301.60 154.60,301.60 154.80,301.60 155.00,301.60 155.20,301.60 155.40,301.60 155.60,301.60 155.80,301.60 156.00,301.60 156.20,301.60 156.40,301.60 156.60,301.60 156.80,301.60 157.00,301.60 157.20,301.60 157.40,301.60 157.60,301.60 157.80,301.60 158.00,301.60 158.20,301.60 158.40,301.60 158.60,301.60 158.80,301.60 159.00,301.60 159.20,301.60 159.40,301.60 159.60,301.60 159.80,301.60 160.00,301.60 160.20,301.60 160.40,301.60 160.60,301.60 160.80,301.60 161.00,301.60 161.20,301.60 161.40,301.60 161.60,301.60 161.80,301.60 162.00,301.60 162.20,301.60 162.40,301.60 162.60,301.60 162.80,301.60 163.00,301.60 163.20,301.60 163.40,301.60 163.60,301.60 163.80,301.60 164.00,301.60 164.20,301.60 164.40,301.60 164.60,301.60 164.80,301.60 165.00,301.60 165.20,301.60 165.40,301.60 165.60,301.60 165.80,301.60 166.00,301.60 166.20,301.60 166.40,301.60 166.60,301.60 166.80,301.60 167.00,301.60 167.20,301.60 167.40,301.60 167.60,301.60 167.80,301.60 168.00,301.60 168.20,301.60 168.40,301.60 168.60,301.60 168.80,301.60 169.00,301.60 169.20,301.60 169.40,301.60 169.60,301.60 169.80,301.60 170.00,301.60 170.20,301.60 170.40,301.60 170.60,301.60 170.80,301.60 171.00,301.60 171.20,301.60 171.40,301.60 171.60,301.60 171.80,301.60 172.00,301.60 172.20,301.60 172.40,301.60 172.60,301.60 172.80,301.60 173.00,301.60 173.20,301.60 173.40,301.60 173.60,301.60 173.80,301.60 174.00,301.60 174.20,301.60 174.40,301.60 174.60,301.60 174.80,301.60 175.00,301.60 175.20,301.60 175.40,301.60 175.60,301.60 175.80,301.60 176.00,301.60 176.20,301.60 176.40,301.60 176.60,301.60 176.80,301.60 177.00,301.60 177.20,301.60 177.40,301.60 177.60,301.60 177.80,301.60 178.00,301.60 178.20,301.60 178.40,301.60 178.60,301.60 178.80,301.60 179.00,301.60 179.20,301.59 179.40,301.59 179.60,301.57 179.80,301.54 180.00,301.49 180.20,301.41 180.40,301.29 180.60,301.12 180.80,300.90 181.00,300.64 181.20,300.37 181.40,300.12 181.60,299.92 181.80,299.81 182.00,299.81 182.20,299.92 182.40,300.12 182.60,300.37 182.80,300.64 183.00,300.90 183.20,301.12 183.40,301.29 183.60,301.41 183.80,301.49 184.00,301.54 184.20,301.57 184.40,301.59 184.60,301.59 184.80,301.60 185.00,301.60 185.20,301.60 185.40,301.60 185.60,301.60 185.80,301.60 186.00,301.60 186.20,301.60 186.40,301.60 186.60,301.60 186.80,301.60 187.00,301.60 187.20,301.60 187.40,301.60 187.60,301.60 187.80,301.60 188.00,301.60 188.20,301.60 188.40,301.60 188.60,301.60 188.80,301.60 189.00,301.60 189.20,301.60 189.40,301.60 189.60,301.60 189.80,301.60 190.00,301.60 190.20,301.59 190.40,301.57 190.60,301.52 190.80,301.41 191.00,301.18 191.20,300.71 191.40,299.86 191.60,298.42 191.80,296.17 192.00,292.98 192.20,288.86 192.40,284.05 192.60,279.09 192.80,274.71 193.00,271.68 193.20,270.60 193.40,271.36 193.60,273.52 193.80,276.78 194.00,280.72 194.20,284.88 194.40,288.86 194.60,292.35 194.80,295.22 195.00,297.40 195.20,298.98 195.40,300.04 195.60,300.71 195.80,301.12 196.00,301.35 196.20,301.48 196.40,301.54 196.60,301.58 196.80,301.59 197.00,301.60 197.20,301.60 197.40,301.60 197.60,301.60 197.80,301.60 198.00,301.60 198.20,301.60 198.40,301.60 198.60,301.60 198.80,301.60 199.00,301.60 199.20,301.60 199.40,301.60 199.60,301.60 199.80,301.60 200.00,301.60 200.20,301.60 200.40,301.60 200.60,301.60 200.80,301.60 201.00,301.60 201.20,301.60 201.40,301.60 201.60,301.60 201.80,301.60 202.00,301.60 202.20,301.60 202.40,301.60 202.60,301.60 202.80,301.60 203.00,301.60 203.20,301.60 203.40,301.60 203.60,301.60 203.80,301.60 204.00,301.60 204.20,301.60 204.40,301.60 204.60,301.60 204.80,301.60 205.00,301.60 205.20,301.60 205.40,301.60 205.60,301.60 205.80,301.60 206.00,301.60 206.20,301.60 206.40,301.60 206.60,301.60 206.80,301.60 207.00,301.60 207.20,301.60 207.40,301.60 207.60,301.60 207.80,301.60 208.00,301.60 208.20,301.60 208.40,301.60 208.60,301.60 208.80,301.60 209.00,301.60 209.20,301.60 209.40,301.60 209.60,301.60 209.80,301.60 210.00,301.59 210.20,301.57 210.40,301.52 210.60,301.36 210.80,300.99 211.00,300.16 211.20,298.53 211.40,295.65 211.60,291.09 211.80,284.73 212.00,276.96 212.20,268.87 212.40,262.05 212.60,258.12 212.80,257.94 213.00,260.59 213.20,265.41 213.40,271.59 213.60,278.23 213.80,284.50 214.00,289.85 214.20,294.01 214.40,297.00 214.60,298.98 214.80,300.20 215.00,300.89 215.20,301.27 215.40,301.45 215.60,301.54 215.80,301.58 216.00,301.59 216.20,301.60 216.40,301.60 216.60,301.60 216.80,301.60 217.00,301.60 217.20,301.59 217.40,301.57 217.60,301.52 217.80,301.37 218.00,301.00 218.20,300.20 218.40,298.61 218.60,295.79 218.80,291.35 219.00,285.15 219.20,277.58 219.40,269.69 219.60,263.03 219.80,259.20 220.00,259.03 220.20,261.61 220.40,266.31 220.60,272.34 220.80,278.82 221.00,284.93 221.20,290.14 221.40,294.20 221.60,297.11 221.80,299.04 222.00,300.23 222.20,300.91 222.40,301.28 222.60,301.46 222.80,301.54 223.00,301.58 223.20,301.59 223.40,301.60 223.60,301.60 223.80,301.60 224.00,301.60 224.20,301.60 224.40,301.60 224.60,301.60 224.80,301.60 225.00,301.60 225.20,301.60 225.40,301.60 225.60,301.60 225.80,301.60 226.00,301.60 226.20,301.60 226.40,301.60 226.60,301.60 226.80,301.60 227.00,301.60 227.20,301.60 227.40,301.60 227.60,301.60 227.80,301.60 228.00,301.60 228.20,301.60 228.40,301.60 228.60,301.60 228.80,301.60 229.00,301.60 229.20,301.60 229.40,301.60 229.60,301.60 229.80,301.60 230.00,301.60 230.20,301.60 230.40,301.60 230.60,301.60 230.80,301.60 231.00,301.59 231.20,301.58 231.40,301.57 231.60,301.54 231.80,301.48 232.00,301.39 232.20,301.26 232.40,301.07 232.60,300.82 232.80,300.54 233.00,300.24 233.20,299.95 233.40,299.74 233.60,299.62 233.80,299.62 234.00,299.74 234.20,299.95 234.40,300.24 234.60,300.54 234.80,300.82 235.00,301.07 235.20,301.26 235.40,301.39 235.60,301.48 235.80,301.54 236.00,301.57 236.20,301.58 236.40,301.59 236.60,301.60 236.80,301.60 237.00,301.60 237.20,301.60 237.40,301.60 237.60,301.60 237.80,301.60 238.00,301.60 238.20,301.60 238.40,301.60 238.60,301.60 238.80,301.60 239.00,301.60 239.20,301.59 239.40,301.55 239.60,301.44 239.80,301.08 240.00,300.10 240.20,297.75 240.40,292.75 240.60,283.37 240.80,268.01 241.00,246.22 241.20,219.90 241.40,193.74 241.60,174.18 241.80,166.90 242.00,171.04 242.20,182.73 242.40,199.92 242.60,219.90 242.80,239.93 243.00,257.87 243.20,272.47 243.40,283.37 243.60,290.88 243.80,295.68 244.00,298.53 244.20,300.10 244.40,300.91 244.60,301.31 244.80,301.48 245.00,301.55 245.20,301.58 245.40,301.59 245.60,301.60 245.80,301.60 246.00,301.60 246.20,301.60 246.40,301.60 246.60,301.60 246.80,301.60 247.00,301.60 247.20,301.60 247.40,301.60 247.60,301.60 247.80,301.60 248.00,301.60 248.20,301.60 248.40,301.60 248.60,301.60 248.80,301.60 249.00,301.60 249.20,301.60 249.40,301.60 249.60,301.60 249.80,301.60 250.00,301.60 250.20,301.60 250.40,301.60 250.60,301.60 250.80,301.60 251.00,301.60 251.20,301.60 251.40,301.60 251.60,301.60 251.80,301.60 252.00,301.60 252.20,301.60 252.40,301.60 252.60,301.60 252.80,301.60 253.00,301.60 253.20,301.60 253.40,301.60 253.60,301.59 253.80,301.58 254.00,301.55 254.20,301.51 254.40,301.44 254.60,301.33 254.80,301.17 255.00,300.95 255.20,300.68 255.40,300.39 255.60,300.09 255.80,299.84 256.00,299.66 256.20,299.60 256.40,299.66 256.60,299.84 256.80,300.09 257.00,300.39 257.20,300.68 257.40,300.95 257.60,301.17 257.80,301.33 258.00,301.44 258.20,301.51 258.40,301.55 258.60,301.58 258.80,301.59 259.00,301.60 259.20,301.60 259.40,301.60 259.60,301.60 259.80,301.60 260.00,301.60 260.20,301.60 260.40,301.60 260.60,301.60 260.80,301.60 261.00,301.60 261.20,301.60 261.40,301.60 261.60,301.60 261.80,301.60 262.00,301.60 262.20,301.60 262.40,301.60 262.60,301.60 262.80,301.60 263.00,301.60 263.20,301.60 263.40,301.60 263.60,301.60 263.80,301.60 264.00,301.60 264.20,301.60 264.40,301.60 264.60,301.60 264.80,301.60 265.00,301.60 265.20,301.60 265.40,301.60 265.60,301.60 265.80,301.60 266.00,301.60 266.20,301.60 266.40,301.60 266.60,301.60 266.80,301.59 267.00,301.58 267.20,301.52 267.40,301.32 267.60,300.76 267.80,299.32 268.00,296.06 268.20,289.54 268.40,278.11 268.60,260.66 268.80,237.75 269.00,212.49 269.20,190.32 269.40,177.24 269.60,176.48 269.80,184.06 270.00,197.87 270.20,215.61 270.40,234.63 270.60,252.60 270.80,267.92 271.00,279.86 271.20,288.41 271.40,294.09 271.60,297.58 271.80,299.58 272.00,300.64 272.20,301.18 272.40,301.42 272.60,301.53 272.80,301.57 273.00,301.59 273.20,301.60 273.40,301.60 273.60,301.60 273.80,301.60 274.00,301.60 274.20,301.60 274.40,301.60 274.60,301.60 274.80,301.59 275.00,301.59 275.20,301.58 275.40,301.55 275.60,301.51 275.80,301.44 276.00,301.34 276.20,301.20 276.40,301.02 276.60,300.80 276.80,300.58 277.00,300.37 277.20,300.20 277.40,300.11 277.60,300.11 277.80,300.20 278.00,300.37 278.20,300.58 278.40,300.80 278.60,301.01 278.80,301.19 279.00,301.32 279.20,301.42 279.40,301.47 279.60,301.49 279.80,301.48 280.00,301.45 280.20,301.40 280.40,301.34 280.60,301.26 280.80,301.16 281.00,301.05 281.20,300.93 281.40,300.81 281.60,300.69 281.80,300.59 282.00,300.50 282.20,300.44 282.40,300.40 282.60,300.40 282.80,300.44 283.00,300.50 283.20,300.59 283.40,300.69 283.60,300.81 283.80,300.93 284.00,301.05 284.20,301.16 284.40,301.26 284.60,301.34 284.80,301.41 285.00,301.46 285.20,301.50 285.40,301.54 285.60,301.56 285.80,301.57 286.00,301.58 286.20,301.59 286.40,301.59 286.60,301.60 286.80,301.60 287.00,301.60 287.20,301.60 287.40,301.60 287.60,301.60 287.80,301.60 288.00,301.60 288.20,301.60 288.40,301.60 288.60,301.60 288.80,301.60 289.00,301.60 289.20,301.60 289.40,301.60 289.60,301.60 289.80,301.60 290.00,301.60 290.20,301.60 290.40,301.60 290.60,301.60 290.80,301.60 291.00,301.60 291.20,301.60 291.40,301.60 291.60,301.60 291.80,301.60 292.00,301.60 292.20,301.60 292.40,301.60 292.60,301.60 292.80,301.60 293.00,301.60 293.20,301.60 293.40,301.60 293.60,301.60 293.80,301.60 294.00,301.60 294.20,301.60 294.40,301.60 294.60,301.60 294.80,301.60 295.00,301.60 295.20,301.60 295.40,301.60 295.60,301.60 295.80,301.60 296.00,301.60 296.20,301.60 296.40,301.60 296.60,301.60 296.80,301.60 297.00,301.60 297.20,301.60 297.40,301.60 297.60,301.60 297.80,301.60 298.00,301.60 298.20,301.60 298.40,301.60 298.60,301.60 298.80,301.60 299.00,301.60 299.20,301.60 299.40,301.60 299.60,301.60 299.80,301.60 300.00,301.60 300.20,301.60 300.40,301.60 300.60,301.60 300.80,301.60 301.00,301.60 301.20,301.60 301.40,301.60 301.60,301.60 301.80,301.60 302.00,301.60 302.20,301.60 302.40,301.60 302.60,301.60 302.80,301.60 303.00,301.60 303.20,301.60 303.40,301.60 303.60,301.60 303.80,301.60 304.00,301.60 304.20,301.60 304.40,301.60 304.60,301.60 304.80,301.60 305.00,301.60 305.20,301.60 305.40,301.60 305.60,301.60 305.80,301.60 306.00,301.60 306.20,301.60 306.40,301.60 306.60,301.60 306.80,301.60 307.00,301.60 307.20,301.60 307.40,301.60 307.60,301.60 307.80,301.60 308.00,301.60 308.20,301.60 308.40,301.60 308.60,301.60 308.80,301.60 309.00,301.60 309.20,301.60 309.40,301.60 309.60,301.60 309.80,301.60 310.00,301.60 310.20,301.60 310.40,301.60 310.60,301.60 310.80,301.60 311.00,301.60 311.20,301.60 311.40,301.60 311.60,301.60 311.80,301.60 312.00,301.60 312.20,301.60 312.40,301.60 312.60,301.60 312.80,301.60 313.00,301.60 313.20,301.60 313.40,301.60 313.60,301.60 313.80,301.60 314.00,301.60 314.20,301.60 314.40,301.60 314.60,301.60 314.80,301.60 315.00,301.60 315.20,301.60 315.40,301.60 315.60,301.60 315.80,301.60 316.00,301.60 316.20,301.60 316.40,301.60 316.60,301.60 316.80,301.60 317.00,301.60 317.20,301.60 317.40,301.60 317.60,301.60 317.80,301.60 318.00,301.60 318.20,301.60 318.40,301.60 318.60,301.60 318.80,301.60 319.00,301.60 319.20,301.60 319.40,301.60 319.60,301.60 319.80,301.60 320.00,301.60 320.20,301.60 320.40,301.60 320.60,301.60 320.80,301.60 321.00,301.60 321.20,301.60 321.40,301.60 321.60,301.60 321.80,301.60 322.00,301.60 322.20,301.60 322.40,301.60 322.60,301.60 322.80,301.60 323.00,301.60 323.20,301.60 323.40,301.60 323.60,301.60 323.80,301.60 324.00,301.60 324.20,301.60 324.40,301.60 324.60,301.60 324.80,301.60 325.00,301.60 325.20,301.60 325.40,301.60 325.60,301.60 325.80,301.60 326.00,301.60 326.20,301.60 326.40,301.60 326.60,301.60 326.80,301.60 327.00,301.60 327.20,301.60 327.40,301.60 327.60,301.60 327.80,301.60 328.00,301.60 328.20,301.60 328.40,301.60 328.60,301.60 328.80,301.60 329.00,301.60 329.20,301.60 329.40,301.60 329.60,301.60 329.80,301.60 330.00,301.60 330.20,301.60 330.40,301.60 330.60,301.60 330.80,301.60 331.00,301.60 331.20,301.60 331.40,301.60 331.60,301.60 331.80,301.60 332.00,301.60 332.20,301.60 332.40,301.60 332.60,301.60 332.80,301.60 333.00,301.60 333.20,301.60 333.40,301.60 333.60,301.60 333.80,301.60 334.00,301.60 334.20,301.60 334.40,301.60 334.60,301.60 334.80,301.60 335.00,301.60 335.20,301.60 335.40,301.60 335.60,301.60 335.80,301.60 336.00,301.60 336.20,301.60 336.40,301.59 336.60,301.58 336.80,301.57 337.00,301.54 337.20,301.49 337.40,301.42 337.60,301.30 337.80,301.13 338.00,300.90 338.20,300.61 338.40,300.27 338.60,299.90 338.80,299.53 339.00,299.20 339.20,298.95 339.40,298.82 339.60,298.82 339.80,298.95 340.00,299.20 340.20,299.53 340.40,299.90 340.60,300.27 340.80,300.61 341.00,300.90 341.20,301.13 341.40,301.30 341.60,301.42 341.80,301.49 342.00,301.54 342.20,301.57 342.40,301.58 342.60,301.59 342.80,301.60 343.00,301.60 343.20,301.60 343.40,301.60 343.60,301.60 343.80,301.60 344.00,301.60 344.20,301.60 344.40,301.60 344.60,301.60 344.80,301.60 345.00,301.60 345.20,301.60 345.40,301.60 345.60,301.60 345.80,301.60 346.00,301.60 346.20,301.60 346.40,301.60 346.60,301.60 346.80,301.60 347.00,301.60 347.20,301.60 347.40,301.60 347.60,301.60 347.80,301.60 348.00,301.60 348.20,301.60 348.40,301.60 348.60,301.60 348.80,301.60 349.00,301.60 349.20,301.60 349.40,301.60 349.60,301.60 349.80,301.60 350.00,301.60 350.20,301.60 350.40,301.60 350.60,301.60 350.80,301.60 351.00,301.60 351.20,301.60 351.40,301.60 351.60,301.60 351.80,301.60 352.00,301.60 352.20,301.60 352.40,301.60 352.60,301.60 352.80,301.60 353.00,301.60 353.20,301.60 353.40,301.60 353.60,301.60 353.80,301.60 354.00,301.60 354.20,301.60 354.40,301.60 354.60,301.60 354.80,301.60 355.00,301.60 355.20,301.60 355.40,301.60 355.60,301.60 355.80,301.60 356.00,301.60 356.20,301.60 356.40,301.60 356.60,301.60 356.80,301.60 357.00,301.60 357.20,301.60 357.40,301.60 357.60,301.60 357.80,301.60 358.00,301.60 358.20,301.60 358.40,301.60 358.60,301.60 358.80,301.60 359.00,301.60 359.20,301.60 359.40,301.60 359.60,301.60 359.80,301.60 360.00,301.60 360.20,301.60 360.40,301.60 360.60,301.60 360.80,301.60 361.00,301.60 361.20,301.60 361.40,301.60 361.60,301.60 361.80,301.60 362.00,301.60 362.20,301.60 362.40,301.60 362.60,301.60 362.80,301.60 363.00,301.60 363.20,301.60 363.40,301.60 363.60,301.60 363.80,301.60 364.00,301.60 364.20,301.60 364.40,301.60 364.60,301.60 364.80,301.60 365.00,301.60 365.20,301.60 365.40,301.60 365.60,301.60 365.80,301.60 366.00,301.60 366.20,301.60 366.40,301.60 366.60,301.60 366.80,301.60 367.00,301.60 367.20,301.60 367.40,301.60 367.60,301.60 367.80,301.60 368.00,301.60 368.20,301.60 368.40,301.60 368.60,301.60 368.80,301.60 369.00,301.60 369.20,301.60 369.40,301.60 369.60,301.60 369.80,301.60 370.00,301.60 370.20,301.60 370.40,301.60 370.60,301.60 370.80,301.60 371.00,301.60 371.20,301.60 371.40,301.60 371.60,301.60 371.80,301.60 372.00,301.60 372.20,301.60 372.40,301.60 372.60,301.60 372.80,301.60 373.00,301.60 373.20,301.60 373.40,301.60 373.60,301.60 373.80,301.60 374.00,301.60 374.20,301.60 374.40,301.60 374.60,301.60 374.80,301.60 375.00,301.60 375.20,301.60 375.40,301.60 375.60,301.60 375.80,301.60 376.00,301.60 376.20,301.60 376.40,301.60 376.60,301.60 376.80,301.60 377.00,301.60 377.20,301.60 377.40,301.60 377.60,301.60 377.80,301.60 378.00,301.60 378.20,301.60 378.40,301.60 378.60,301.60 378.80,301.60 379.00,301.60 379.20,301.60 379.40,301.60 379.60,301.60 379.80,301.60 380.00,301.60 380.20,301.60 380.40,301.60 380.60,301.60 380.80,301.60 381.00,301.60 381.20,301.60 381.40,301.60 381.60,301.60 381.80,301.60 382.00,301.60 382.20,301.60 382.40,301.60 382.60,301.60 382.80,301.60 383.00,301.60 383.20,301.60 383.40,301.60 383.60,301.60 383.80,301.60 384.00,301.60 384.20,301.60 384.40,301.60 384.60,301.60 384.80,301.60 385.00,301.60 385.20,301.60 385.40,301.60 385.60,301.60 385.80,301.60 386.00,301.60 386.20,301.60 386.40,301.60 386.60,301.60 386.80,301.60 387.00,301.60 387.20,301.60 387.40,301.60 387.60,301.60 387.80,301.60 388.00,301.60 388.20,301.60 388.40,301.60 388.60,301.60 388.80,301.60 389.00,301.60 389.20,301.60 389.40,301.60 389.60,301.60 389.80,301.60 390.00,301.60 390.20,301.60 390.40,301.60 390.60,301.60 390.80,301.60 391.00,301.60 391.20,301.60 391.40,301.60 391.60,301.60 391.80,301.60 392.00,301.60 392.20,301.60 392.40,301.60 392.60,301.60 392.80,301.60 393.00,301.60 393.20,301.60 393.40,301.60 393.60,301.60 393.80,301.60 394.00,301.60 394.20,301.60 394.40,301.60 394.60,301.60 394.80,301.60 395.00,301.60 395.20,301.60 395.40,301.60 395.60,301.60 395.80,301.60 396.00,301.60 396.20,301.60 396.40,301.60 396.60,301.60 396.80,301.60 397.00,301.60 397.20,301.60 397.40,301.60 397.60,301.60 397.80,301.60 398.00,301.60 398.20,301.60 398.40,301.60 398.60,301.60 398.80,301.60 399.00,301.60 399.20,301.60 399.40,301.60 399.60,301.60 399.80,301.60 400.00,301.60 400.20,301.60 400.40,301.60 400.60,301.60 400.80,301.60 401.00,301.60 401.20,301.60 401.40,301.60 401.60,301.60 401.80,301.60 402.00,301.60 402.20,301.60 402.40,301.60 402.60,301.60 402.80,301.60 403.00,301.60 403.20,301.60 403.40,301.60 403.60,301.60 403.80,301.60 404.00,301.59 404.20,301.58 404.40,301.56 404.60,301.51 404.80,301.44 405.00,301.32 405.20,301.17 405.40,300.98 405.60,300.77 405.80,300.58 406.00,300.45 406.20,300.40 406.40,300.45 406.60,300.58 406.80,300.77 407.00,300.98 407.20,301.17 407.40,301.32 407.60,301.44 407.80,301.51 408.00,301.56 408.20,301.58 408.40,301.59 408.60,301.60 408.80,301.60 409.00,301.60 409.20,301.60 409.40,301.60 409.60,301.60 409.80,301.60 410.00,301.60 410.20,301.60 410.40,301.60 410.60,301.60 410.80,301.60 411.00,301.60 411.20,301.60 411.40,301.60 411.60,301.60 411.80,301.60 412.00,301.60 412.20,301.60 412.40,301.60 412.60,301.60 412.80,301.60 413.00,301.60 413.20,301.60 413.40,301.60 413.60,301.60 413.80,301.60 414.00,301.60 414.20,301.60 414.40,301.60 414.60,301.60 414.80,301.60 415.00,301.60 415.20,301.60 415.40,301.60 415.60,301.60 415.80,301.60 416.00,301.60 416.20,301.60 416.40,301.60 416.60,301.60 416.80,301.60 417.00,301.60 417.20,301.60 417.40,301.60 417.60,301.60 417.80,301.60 418.00,301.60 418.20,301.60 418.40,301.60 418.60,301.60 418.80,301.60 419.00,301.60 419.20,301.60 419.40,301.60 419.60,301.60 419.80,301.60 420.00,301.60 420.20,301.60 420.40,301.60 420.60,301.60" fill="none" stroke="#000" stroke-width="2.4" stroke-linejoin="round"/>
<text x="47.60" y="32.00" font-family='"Liberation Sans", sans-serif' font-size="21.8" text-anchor="start" font-weight="normal" stroke="#000" stroke-width="0.3" textLength="32.6" lengthAdjust="spacingAndGlyphs">M1</text>
<text x="47.60" y="176.60" font-family='"Liberation Sans", sans-serif' font-size="21.8" text-anchor="start" font-weight="normal" stroke="#000" stroke-width="0.3" textLength="32.6" lengthAdjust="spacingAndGlyphs">M4</text>
<text x="220.25" y="95.70" font-family='"Liberation Sans", sans-serif' font-size="19.0" text-anchor="middle" font-weight="normal" stroke="#000" stroke-width="0.3" >d</text>
<text x="233.65" y="146.20" font-family='"Liberation Sans", sans-serif' font-size="16.8" text-anchor="middle" font-weight="normal" stroke="#000" stroke-width="0.3" >e</text>
<text x="233.35" y="27.60" font-family='"Liberation Sans", sans-serif' font-size="19.0" text-anchor="middle" font-weight="normal" stroke="#000" stroke-width="0.3" >f</text>
<text x="261.85" y="140.00" font-family='"Liberation Sans", sans-serif' font-size="19.0" text-anchor="middle" font-weight="normal" stroke="#000" stroke-width="0.3" >h</text>
<text x="268.95" y="129.90" font-family='"Liberation Sans", sans-serif' font-size="19.0" text-anchor="middle" font-weight="normal" stroke="#000" stroke-width="0.3" >i</text>
<text x="276.40" y="141.20" font-family='"Liberation Sans", sans-serif' font-size="19.0" text-anchor="middle" font-weight="normal" stroke="#000" stroke-width="0.3" >j</text>
<text x="292.05" y="128.40" font-family='"Liberation Sans", sans-serif' font-size="19.0" text-anchor="middle" font-weight="normal" stroke="#000" stroke-width="0.3" >k</text>
<text x="53.50" y="294.10" font-family='"Liberation Sans", sans-serif' font-size="16.8" text-anchor="middle" font-weight="normal" stroke="#000" stroke-width="0.3" >a</text>
<text x="193.85" y="265.80" font-family='"Liberation Sans", sans-serif' font-size="19.0" text-anchor="middle" font-weight="normal" stroke="#000" stroke-width="0.3" >b</text>
<text x="210.40" y="252.90" font-family='"Liberation Sans", sans-serif' font-size="16.8" text-anchor="middle" font-weight="normal" stroke="#000" stroke-width="0.3" >c</text>
<text x="220.15" y="255.20" font-family='"Liberation Sans", sans-serif' font-size="19.0" text-anchor="middle" font-weight="normal" stroke="#000" stroke-width="0.3" >d</text>
<text x="232.90" y="294.00" font-family='"Liberation Sans", sans-serif' font-size="16.8" text-anchor="middle" font-weight="normal" stroke="#000" stroke-width="0.3" >e</text>
<text x="255.40" y="292.20" font-family='"Liberation Sans", sans-serif' font-size="17.400000000000002" text-anchor="middle" font-weight="normal" stroke="#000" stroke-width="0.3" >g</text>
<text x="234.00" y="175.80" font-family='"Liberation Sans", sans-serif' font-size="19.0" text-anchor="middle" font-weight="normal" stroke="#000" stroke-width="0.3" >f</text>
<text x="264.45" y="176.80" font-family='"Liberation Sans", sans-serif' font-size="19.0" text-anchor="middle" font-weight="normal" stroke="#000" stroke-width="0.3" >i</text>
<text x="277.50" y="292.30" font-family='"Liberation Sans", sans-serif' font-size="19.0" text-anchor="middle" font-weight="normal" stroke="#000" stroke-width="0.3" >j</text>
<text x="406.20" y="292.20" font-family='"Liberation Sans", sans-serif' font-size="19.0" text-anchor="middle" font-weight="normal" stroke="#000" stroke-width="0.3" >l</text>
<text x="449.80" y="19.80" font-family='"Liberation Sans", sans-serif' font-size="21" text-anchor="start" font-weight="bold" >b</text>
<rect x="528.7" y="11.0" width="251.60" height="251.70" fill="none" stroke="#000" stroke-width="1.6"/>
<line x1="531.90" y1="262.70" x2="531.90" y2="271.20" stroke="#000" stroke-width="1.4"/>
<text x="531.90" y="290.00" font-family='"Liberation Serif", serif' font-size="20.5" text-anchor="middle" font-weight="normal" >-3</text>
<line x1="573.20" y1="262.70" x2="573.20" y2="271.20" stroke="#000" stroke-width="1.4"/>
<text x="573.20" y="290.00" font-family='"Liberation Serif", serif' font-size="20.5" text-anchor="middle" font-weight="normal" >-2</text>
<line x1="614.50" y1="262.70" x2="614.50" y2="271.20" stroke="#000" stroke-width="1.4"/>
<text x="614.50" y="290.00" font-family='"Liberation Serif", serif' font-size="20.5" text-anchor="middle" font-weight="normal" >-1</text>
<line x1="655.80" y1="262.70" x2="655.80" y2="271.20" stroke="#000" stroke-width="1.4"/>
<text x="655.80" y="290.00" font-family='"Liberation Serif", serif' font-size="20.5" text-anchor="middle" font-weight="normal" >0</text>
<line x1="697.10" y1="262.70" x2="697.10" y2="271.20" stroke="#000" stroke-width="1.4"/>
<text x="697.10" y="290.00" font-family='"Liberation Serif", serif' font-size="20.5" text-anchor="middle" font-weight="normal" >1</text>
<line x1="738.40" y1="262.70" x2="738.40" y2="271.20" stroke="#000" stroke-width="1.4"/>
<text x="738.40" y="290.00" font-family='"Liberation Serif", serif' font-size="20.5" text-anchor="middle" font-weight="normal" >2</text>
<line x1="779.70" y1="262.70" x2="779.70" y2="271.20" stroke="#000" stroke-width="1.4"/>
<text x="779.70" y="290.00" font-family='"Liberation Serif", serif' font-size="20.5" text-anchor="middle" font-weight="normal" >3</text>
<line x1="520.70" y1="260.70" x2="528.70" y2="260.70" stroke="#000" stroke-width="1.4"/>
<text x="515.30" y="269.30" font-family='"Liberation Serif", serif' font-size="20.5" text-anchor="end" font-weight="normal" >-2</text>
<line x1="520.70" y1="219.25" x2="528.70" y2="219.25" stroke="#000" stroke-width="1.4"/>
<text x="515.30" y="227.85" font-family='"Liberation Serif", serif' font-size="20.5" text-anchor="end" font-weight="normal" >-1</text>
<line x1="520.70" y1="177.80" x2="528.70" y2="177.80" stroke="#000" stroke-width="1.4"/>
<text x="515.30" y="186.40" font-family='"Liberation Serif", serif' font-size="20.5" text-anchor="end" font-weight="normal" >0</text>
<line x1="520.70" y1="136.35" x2="528.70" y2="136.35" stroke="#000" stroke-width="1.4"/>
<text x="515.30" y="144.95" font-family='"Liberation Serif", serif' font-size="20.5" text-anchor="end" font-weight="normal" >1</text>
<line x1="520.70" y1="94.90" x2="528.70" y2="94.90" stroke="#000" stroke-width="1.4"/>
<text x="515.30" y="103.50" font-family='"Liberation Serif", serif' font-size="20.5" text-anchor="end" font-weight="normal" >2</text>
<line x1="520.70" y1="53.45" x2="528.70" y2="53.45" stroke="#000" stroke-width="1.4"/>
<text x="515.30" y="62.05" font-family='"Liberation Serif", serif' font-size="20.5" text-anchor="end" font-weight="normal" >3</text>
<line x1="520.70" y1="12.00" x2="528.70" y2="12.00" stroke="#000" stroke-width="1.4"/>
<text x="515.30" y="15.90" font-family='"Liberation Serif", serif' font-size="20.5" text-anchor="end" font-weight="normal" >4</text>
<text x="656.00" y="314.80" font-family='"Liberation Sans", sans-serif' font-size="20.6" text-anchor="middle" font-weight="normal" stroke="#000" stroke-width="0.3" >PC1 (27%)</text>
<text transform="translate(490.2,136.5) rotate(-90)" x="0" y="0" font-family='"Liberation Sans", sans-serif' font-size="20.7" text-anchor="middle" stroke="#000" stroke-width="0.3">PC2 (25%)</text>
<circle cx="540.4" cy="21.9" r="5.1" fill="#000"/>
<rect x="536.1" y="43.2" width="9.6" height="8.6" fill="#000"/>
<text x="551.00" y="29.20" font-family='"Liberation Serif", serif' font-size="21.1" text-anchor="start" font-weight="normal" >Male</text>
<text x="551.00" y="55.30" font-family='"Liberation Serif", serif' font-size="21.1" text-anchor="start" font-weight="normal" >Female</text>
<circle cx="763.7" cy="156.7" r="4.7" fill="#000"/>
<circle cx="557.2" cy="196.3" r="4.7" fill="#000"/>
<circle cx="639.3" cy="220.5" r="4.7" fill="#000"/>
<circle cx="682.0" cy="185.4" r="4.7" fill="#000"/>
<circle cx="717.3" cy="248.9" r="4.7" fill="#000"/>
<rect x="658.40" y="20.70" width="9.2" height="8.8" fill="#000"/>
<rect x="644.90" y="118.00" width="9.2" height="8.8" fill="#000"/>
<rect x="539.90" y="179.70" width="9.2" height="8.8" fill="#000"/>
<rect x="627.80" y="200.80" width="9.2" height="8.8" fill="#000"/>
<rect x="691.10" y="228.00" width="9.2" height="8.8" fill="#000"/>
<text x="32.00" y="372.40" font-family='"Liberation Sans", sans-serif' font-size="21" text-anchor="start" font-weight="bold" >c</text>
<rect x="59.70" y="375.80" width="27.15" height="19.15" fill="rgb(228,228,228)" shape-rendering="crispEdges"/>
<rect x="114.90" y="375.80" width="27.85" height="19.15" fill="rgb(0,0,0)" shape-rendering="crispEdges"/>
<rect x="142.50" y="375.80" width="28.85" height="19.15" fill="rgb(0,0,0)" shape-rendering="crispEdges"/>
<rect x="199.30" y="375.80" width="28.15" height="19.15" fill="rgb(105,105,105)" shape-rendering="crispEdges"/>
<rect x="255.30" y="375.80" width="28.25" height="19.15" fill="rgb(190,190,190)" shape-rendering="crispEdges"/>
<rect x="283.30" y="375.80" width="28.25" height="19.15" fill="rgb(232,232,232)" shape-rendering="crispEdges"/>
<rect x="114.90" y="394.70" width="27.85" height="19.25" fill="rgb(45,45,45)" shape-rendering="crispEdges"/>
<rect x="171.10" y="394.70" width="28.45" height="19.25" fill="rgb(243,243,243)" shape-rendering="crispEdges"/>
<rect x="255.30" y="394.70" width="28.25" height="19.25" fill="rgb(110,110,110)" shape-rendering="crispEdges"/>
<rect x="283.30" y="394.70" width="28.25" height="19.25" fill="rgb(212,212,212)" shape-rendering="crispEdges"/>
<rect x="311.30" y="394.70" width="28.85" height="19.25" fill="rgb(150,150,150)" shape-rendering="crispEdges"/>
<rect x="59.70" y="413.70" width="27.15" height="19.15" fill="rgb(0,0,0)" shape-rendering="crispEdges"/>
<rect x="114.90" y="413.70" width="27.85" height="19.15" fill="rgb(165,165,165)" shape-rendering="crispEdges"/>
<rect x="171.10" y="413.70" width="28.45" height="19.15" fill="rgb(135,135,135)" shape-rendering="crispEdges"/>
<rect x="227.20" y="413.70" width="28.35" height="19.15" fill="rgb(125,125,125)" shape-rendering="crispEdges"/>
<rect x="283.30" y="413.70" width="28.25" height="19.15" fill="rgb(200,200,200)" shape-rendering="crispEdges"/>
<rect x="311.30" y="413.70" width="28.85" height="19.15" fill="rgb(150,150,150)" shape-rendering="crispEdges"/>
<rect x="59.70" y="432.60" width="27.15" height="19.35" fill="rgb(120,120,120)" shape-rendering="crispEdges"/>
<rect x="114.90" y="432.60" width="27.85" height="19.35" fill="rgb(135,135,135)" shape-rendering="crispEdges"/>
<rect x="171.10" y="432.60" width="28.45" height="19.35" fill="rgb(162,162,162)" shape-rendering="crispEdges"/>
<rect x="227.20" y="432.60" width="28.35" height="19.35" fill="rgb(225,225,225)" shape-rendering="crispEdges"/>
<rect x="283.30" y="432.60" width="28.25" height="19.35" fill="rgb(175,175,175)" shape-rendering="crispEdges"/>
<rect x="311.30" y="432.60" width="28.85" height="19.35" fill="rgb(110,110,110)" shape-rendering="crispEdges"/>
<rect x="59.70" y="451.70" width="27.15" height="19.45" fill="rgb(25,25,25)" shape-rendering="crispEdges"/>
<rect x="86.60" y="451.70" width="28.55" height="19.45" fill="rgb(0,0,0)" shape-rendering="crispEdges"/>
<rect x="114.90" y="451.70" width="27.85" height="19.45" fill="rgb(98,98,98)" shape-rendering="crispEdges"/>
<rect x="142.50" y="451.70" width="28.85" height="19.45" fill="rgb(228,228,228)" shape-rendering="crispEdges"/>
<rect x="171.10" y="451.70" width="28.45" height="19.45" fill="rgb(182,182,182)" shape-rendering="crispEdges"/>
<rect x="255.30" y="451.70" width="28.25" height="19.45" fill="rgb(105,105,105)" shape-rendering="crispEdges"/>
<rect x="283.30" y="451.70" width="28.25" height="19.45" fill="rgb(230,230,230)" shape-rendering="crispEdges"/>
<rect x="311.30" y="451.70" width="28.85" height="19.45" fill="rgb(250,250,250)" shape-rendering="crispEdges"/>
<rect x="59.70" y="470.90" width="27.15" height="19.35" fill="rgb(95,95,95)" shape-rendering="crispEdges"/>
<rect x="86.60" y="470.90" width="28.55" height="19.35" fill="rgb(50,50,50)" shape-rendering="crispEdges"/>
<rect x="114.90" y="470.90" width="27.85" height="19.35" fill="rgb(85,85,85)" shape-rendering="crispEdges"/>
<rect x="171.10" y="470.90" width="28.45" height="19.35" fill="rgb(115,115,115)" shape-rendering="crispEdges"/>
<rect x="227.20" y="470.90" width="28.35" height="19.35" fill="rgb(228,228,228)" shape-rendering="crispEdges"/>
<rect x="255.30" y="470.90" width="28.25" height="19.35" fill="rgb(252,252,252)" shape-rendering="crispEdges"/>
<rect x="311.30" y="470.90" width="28.85" height="19.35" fill="rgb(195,195,195)" shape-rendering="crispEdges"/>
<rect x="59.70" y="490.00" width="27.15" height="19.35" fill="rgb(215,215,215)" shape-rendering="crispEdges"/>
<rect x="114.90" y="490.00" width="27.85" height="19.35" fill="rgb(125,125,125)" shape-rendering="crispEdges"/>
<rect x="142.50" y="490.00" width="28.85" height="19.35" fill="rgb(195,195,195)" shape-rendering="crispEdges"/>
<rect x="171.10" y="490.00" width="28.45" height="19.35" fill="rgb(155,155,155)" shape-rendering="crispEdges"/>
<rect x="227.20" y="490.00" width="28.35" height="19.35" fill="rgb(0,0,0)" shape-rendering="crispEdges"/>
<rect x="255.30" y="490.00" width="28.25" height="19.35" fill="rgb(0,0,0)" shape-rendering="crispEdges"/>
<rect x="283.30" y="490.00" width="28.25" height="19.35" fill="rgb(205,205,205)" shape-rendering="crispEdges"/>
<rect x="311.30" y="490.00" width="28.85" height="19.35" fill="rgb(110,110,110)" shape-rendering="crispEdges"/>
<rect x="59.70" y="509.10" width="27.15" height="19.45" fill="rgb(105,105,105)" shape-rendering="crispEdges"/>
<rect x="171.10" y="509.10" width="28.45" height="19.45" fill="rgb(192,192,192)" shape-rendering="crispEdges"/>
<rect x="227.20" y="509.10" width="28.35" height="19.45" fill="rgb(245,245,245)" shape-rendering="crispEdges"/>
<rect x="283.30" y="509.10" width="28.25" height="19.45" fill="rgb(0,0,0)" shape-rendering="crispEdges"/>
<rect x="311.30" y="509.10" width="28.85" height="19.45" fill="rgb(130,130,130)" shape-rendering="crispEdges"/>
<rect x="59.70" y="528.30" width="27.15" height="19.15" fill="rgb(242,242,242)" shape-rendering="crispEdges"/>
<rect x="114.90" y="528.30" width="27.85" height="19.15" fill="rgb(235,235,235)" shape-rendering="crispEdges"/>
<rect x="171.10" y="528.30" width="28.45" height="19.15" fill="rgb(230,230,230)" shape-rendering="crispEdges"/>
<rect x="227.20" y="528.30" width="28.35" height="19.15" fill="rgb(242,242,242)" shape-rendering="crispEdges"/>
<rect x="283.30" y="528.30" width="28.25" height="19.15" fill="rgb(95,95,95)" shape-rendering="crispEdges"/>
<rect x="311.30" y="528.30" width="28.85" height="19.15" fill="rgb(0,0,0)" shape-rendering="crispEdges"/>
<rect x="59.70" y="547.20" width="27.15" height="19.45" fill="rgb(165,165,165)" shape-rendering="crispEdges"/>
<rect x="114.90" y="547.20" width="27.85" height="19.45" fill="rgb(190,190,190)" shape-rendering="crispEdges"/>
<rect x="142.50" y="547.20" width="28.85" height="19.45" fill="rgb(108,108,108)" shape-rendering="crispEdges"/>
<rect x="171.10" y="547.20" width="28.45" height="19.45" fill="rgb(0,0,0)" shape-rendering="crispEdges"/>
<rect x="199.30" y="547.20" width="28.15" height="19.45" fill="rgb(0,0,0)" shape-rendering="crispEdges"/>
<rect x="255.30" y="547.20" width="28.25" height="19.45" fill="rgb(40,40,40)" shape-rendering="crispEdges"/>
<rect x="283.30" y="547.20" width="28.25" height="19.45" fill="rgb(105,105,105)" shape-rendering="crispEdges"/>
<rect x="311.30" y="547.20" width="28.85" height="19.45" fill="rgb(160,160,160)" shape-rendering="crispEdges"/>
<rect x="32.1" y="460.60" width="9.3" height="9.65" fill="rgb(5,5,5)" shape-rendering="crispEdges"/>
<rect x="32.1" y="470.00" width="9.3" height="9.55" fill="rgb(30,30,30)" shape-rendering="crispEdges"/>
<rect x="32.1" y="479.30" width="9.3" height="9.55" fill="rgb(52,52,52)" shape-rendering="crispEdges"/>
<rect x="32.1" y="488.60" width="9.3" height="10.55" fill="rgb(77,77,77)" shape-rendering="crispEdges"/>
<rect x="32.1" y="498.90" width="9.3" height="9.65" fill="rgb(102,102,102)" shape-rendering="crispEdges"/>
<rect x="32.1" y="508.30" width="9.3" height="10.55" fill="rgb(128,128,128)" shape-rendering="crispEdges"/>
<rect x="32.1" y="518.60" width="9.3" height="9.55" fill="rgb(150,150,150)" shape-rendering="crispEdges"/>
<rect x="32.1" y="527.90" width="9.3" height="9.55" fill="rgb(175,175,175)" shape-rendering="crispEdges"/>
<rect x="32.1" y="537.20" width="9.3" height="10.55" fill="rgb(200,200,200)" shape-rendering="crispEdges"/>
<rect x="32.1" y="547.50" width="9.3" height="9.65" fill="rgb(225,225,225)" shape-rendering="crispEdges"/>
<rect x="32.1" y="556.90" width="9.3" height="10.45" fill="rgb(252,252,252)" shape-rendering="crispEdges"/>
<rect x="32.5" y="557.30" width="8.5" height="9.40" fill="none" stroke="#e6e6e6" stroke-width="0.8"/>
<text x="37.00" y="455.40" font-family='"Liberation Serif", serif' font-size="15.4" text-anchor="middle" font-weight="normal" >high</text>
<text x="37.00" y="582.60" font-family='"Liberation Serif", serif' font-size="15.2" text-anchor="middle" font-weight="normal" >low</text>
<text transform="translate(71.50,587.90) scale(0.95,1)" font-family='"Liberation Sans", sans-serif' font-size="23" text-anchor="middle" stroke="#000" stroke-width="0.3">b</text>
<text transform="translate(100.90,587.90) scale(0.95,1)" font-family='"Liberation Sans", sans-serif' font-size="23" text-anchor="middle" stroke="#000" stroke-width="0.3">i</text>
<text transform="translate(128.70,587.90) scale(0.95,1)" font-family='"Liberation Sans", sans-serif' font-size="23" text-anchor="middle" stroke="#000" stroke-width="0.3">c</text>
<text transform="translate(157.30,587.90) scale(0.95,1)" font-family='"Liberation Sans", sans-serif' font-size="23" text-anchor="middle" stroke="#000" stroke-width="0.3">j</text>
<text transform="translate(184.00,587.90) scale(0.95,1)" font-family='"Liberation Sans", sans-serif' font-size="23" text-anchor="middle" stroke="#000" stroke-width="0.3">e</text>
<text transform="translate(213.20,587.90) scale(0.95,1)" font-family='"Liberation Sans", sans-serif' font-size="23" text-anchor="middle" stroke="#000" stroke-width="0.3">k</text>
<text transform="translate(242.60,587.90) scale(1.0,1)" font-family='"Liberation Sans", sans-serif' font-size="23" text-anchor="middle" stroke="#000" stroke-width="0.3">g</text>
<text transform="translate(268.60,587.90) scale(0.95,1)" font-family='"Liberation Sans", sans-serif' font-size="23" text-anchor="middle" stroke="#000" stroke-width="0.3">h</text>
<text transform="translate(297.30,587.90) scale(0.95,1)" font-family='"Liberation Sans", sans-serif' font-size="23" text-anchor="middle" stroke="#000" stroke-width="0.3">d</text>
<text transform="translate(324.70,587.90) scale(0.95,1)" font-family='"Liberation Sans", sans-serif' font-size="23" text-anchor="middle" stroke="#000" stroke-width="0.3">f</text>
<text x="356.30" y="387.40" font-family='"Liberation Sans", sans-serif' font-size="16.3" text-anchor="middle" font-weight="normal" stroke="#000" stroke-width="0.3" >M1</text>
<text x="356.30" y="406.00" font-family='"Liberation Sans", sans-serif' font-size="16.3" text-anchor="middle" font-weight="normal" stroke="#000" stroke-width="0.3" >M3</text>
<text x="356.30" y="426.30" font-family='"Liberation Sans", sans-serif' font-size="16.3" text-anchor="middle" font-weight="normal" stroke="#000" stroke-width="0.3" >M5</text>
<text x="356.30" y="445.00" font-family='"Liberation Sans", sans-serif' font-size="16.3" text-anchor="middle" font-weight="normal" stroke="#000" stroke-width="0.3" >F3</text>
<text x="356.30" y="464.30" font-family='"Liberation Sans", sans-serif' font-size="16.3" text-anchor="middle" font-weight="normal" stroke="#000" stroke-width="0.3" >M4</text>
<text x="356.30" y="483.60" font-family='"Liberation Sans", sans-serif' font-size="16.3" text-anchor="middle" font-weight="normal" stroke="#000" stroke-width="0.3" >F1</text>
<text x="356.30" y="502.70" font-family='"Liberation Sans", sans-serif' font-size="16.3" text-anchor="middle" font-weight="normal" stroke="#000" stroke-width="0.3" >F4</text>
<text x="356.30" y="522.10" font-family='"Liberation Sans", sans-serif' font-size="16.3" text-anchor="middle" font-weight="normal" stroke="#000" stroke-width="0.3" >M2</text>
<text x="356.30" y="541.10" font-family='"Liberation Sans", sans-serif' font-size="16.3" text-anchor="middle" font-weight="normal" stroke="#000" stroke-width="0.3" >F2</text>
<text x="356.30" y="560.40" font-family='"Liberation Sans", sans-serif' font-size="16.3" text-anchor="middle" font-weight="normal" stroke="#000" stroke-width="0.3" >F5</text>
<polyline points="374.80,384.20 416.00,384.20 416.00,444.30" fill="none" stroke="#000" stroke-width="1.45" stroke-linejoin="miter"/>
<polyline points="374.80,402.80 399.30,402.80 399.30,432.50" fill="none" stroke="#000" stroke-width="1.45" stroke-linejoin="miter"/>
<polyline points="374.80,423.10 388.10,423.10 388.10,441.80 374.80,441.80" fill="none" stroke="#000" stroke-width="1.45" stroke-linejoin="miter"/>
<line x1="388.10" y1="432.50" x2="399.30" y2="432.50" stroke="#000" stroke-width="1.45"/>
<polyline points="399.30,418.00 406.40,418.00 406.40,470.50" fill="none" stroke="#000" stroke-width="1.45" stroke-linejoin="miter"/>
<polyline points="374.80,461.10 389.30,461.10 389.30,480.40 374.80,480.40" fill="none" stroke="#000" stroke-width="1.45" stroke-linejoin="miter"/>
<line x1="389.30" y1="470.50" x2="406.40" y2="470.50" stroke="#000" stroke-width="1.45"/>
<line x1="406.40" y1="444.30" x2="417.90" y2="444.30" stroke="#000" stroke-width="1.45"/>
<line x1="417.3" y1="414" x2="417.3" y2="444.3" stroke="#888" stroke-width="1.6"/>
<polyline points="374.80,499.50 417.90,499.50 417.90,444.30" fill="none" stroke="#000" stroke-width="1.45" stroke-linejoin="miter"/>
<polyline points="417.90,456.80 422.30,456.80 422.30,528.60" fill="none" stroke="#000" stroke-width="1.45" stroke-linejoin="miter"/>
<polyline points="374.80,518.90 400.30,518.90 400.30,537.90 374.80,537.90" fill="none" stroke="#000" stroke-width="1.45" stroke-linejoin="miter"/>
<line x1="400.30" y1="528.60" x2="422.30" y2="528.60" stroke="#000" stroke-width="1.45"/>
<polyline points="422.30,492.60 424.40,492.60 424.40,557.20 374.80,557.20" fill="none" stroke="#000" stroke-width="1.45" stroke-linejoin="miter"/>
<line x1="424.40" y1="524.90" x2="429.50" y2="524.90" stroke="#000" stroke-width="1.45"/>
<polyline points="73.00,594.60 73.00,613.10 101.20,613.10 101.20,594.60" fill="none" stroke="#000" stroke-width="1.5" stroke-linejoin="miter"/>
<polyline points="129.00,594.60 129.00,611.60 157.10,611.60 157.10,594.60" fill="none" stroke="#000" stroke-width="1.5" stroke-linejoin="miter"/>
<polyline points="184.90,594.60 184.90,604.60 213.20,604.60 213.20,594.60" fill="none" stroke="#000" stroke-width="1.5" stroke-linejoin="miter"/>
<polyline points="240.70,594.60 240.70,610.70 269.20,610.70 269.20,594.60" fill="none" stroke="#000" stroke-width="1.5" stroke-linejoin="miter"/>
<polyline points="297.00,594.60 297.00,615.90 325.00,615.90 325.00,594.60" fill="none" stroke="#000" stroke-width="1.5" stroke-linejoin="miter"/>
<line x1="87.10" y1="613.10" x2="87.10" y2="633.00" stroke="#000" stroke-width="1.5"/>
<line x1="143.05" y1="611.60" x2="143.05" y2="629.20" stroke="#000" stroke-width="1.5"/>
<polyline points="199.05,604.60 199.05,625.90 254.95,625.90 254.95,610.70" fill="none" stroke="#000" stroke-width="1.5" stroke-linejoin="miter"/>
<line x1="226.60" y1="625.90" x2="226.60" y2="629.20" stroke="#000" stroke-width="1.5"/>
<line x1="143.05" y1="629.20" x2="226.60" y2="629.20" stroke="#000" stroke-width="1.5"/>
<polyline points="135.00,631.80 184.60,631.80 184.60,629.20" fill="none" stroke="#000" stroke-width="1.5" stroke-linejoin="miter"/>
<line x1="311.00" y1="615.90" x2="311.00" y2="633.00" stroke="#000" stroke-width="1.5"/>
<line x1="87.10" y1="633.00" x2="311.00" y2="633.00" stroke="#000" stroke-width="1.5"/>
<line x1="223.30" y1="633.00" x2="223.30" y2="637.00" stroke="#000" stroke-width="1.5"/>
<text x="449.60" y="336.40" font-family='"Liberation Sans", sans-serif' font-size="21" text-anchor="start" font-weight="bold" >d</text>
<rect x="523.4" y="350.5" width="261.40" height="254.40" fill="none" stroke="#000" stroke-width="1.6"/>
<line x1="515.40" y1="604.90" x2="523.40" y2="604.90" stroke="#000" stroke-width="1.5"/>
<text x="509.50" y="611.40" font-family='"Liberation Serif", serif' font-size="19.2" text-anchor="end" font-weight="normal" >0</text>
<line x1="515.40" y1="562.50" x2="523.40" y2="562.50" stroke="#000" stroke-width="1.5"/>
<text x="509.50" y="569.00" font-family='"Liberation Serif", serif' font-size="19.2" text-anchor="end" font-weight="normal" >100</text>
<line x1="515.40" y1="520.10" x2="523.40" y2="520.10" stroke="#000" stroke-width="1.5"/>
<text x="509.50" y="526.60" font-family='"Liberation Serif", serif' font-size="19.2" text-anchor="end" font-weight="normal" >200</text>
<line x1="515.40" y1="477.70" x2="523.40" y2="477.70" stroke="#000" stroke-width="1.5"/>
<text x="509.50" y="484.20" font-family='"Liberation Serif", serif' font-size="19.2" text-anchor="end" font-weight="normal" >300</text>
<line x1="515.40" y1="435.30" x2="523.40" y2="435.30" stroke="#000" stroke-width="1.5"/>
<text x="509.50" y="441.80" font-family='"Liberation Serif", serif' font-size="19.2" text-anchor="end" font-weight="normal" >400</text>
<line x1="515.40" y1="392.90" x2="523.40" y2="392.90" stroke="#000" stroke-width="1.5"/>
<text x="509.50" y="399.40" font-family='"Liberation Serif", serif' font-size="19.2" text-anchor="end" font-weight="normal" >500</text>
<line x1="515.40" y1="350.50" x2="523.40" y2="350.50" stroke="#000" stroke-width="1.5"/>
<text x="509.50" y="357.00" font-family='"Liberation Serif", serif' font-size="19.2" text-anchor="end" font-weight="normal" >600</text>
<text transform="translate(467.0,488.1) rotate(-90)" x="0" y="0" font-family='"Liberation Sans", sans-serif' font-size="19.5" text-anchor="middle" stroke="#000" stroke-width="0.3" textLength="291" lengthAdjust="spacingAndGlyphs">Total free fatty acids (ng/50mg)</text>
<line x1="559.80" y1="403.80" x2="616.00" y2="403.80" stroke="#000" stroke-width="1.9"/>
<line x1="587.90" y1="403.80" x2="587.90" y2="465.00" stroke="#000" stroke-width="1.9"/>
<rect x="560.6" y="465.0" width="55.0" height="127.2" fill="none" stroke="#000" stroke-width="1.9"/>
<line x1="560.60" y1="546.70" x2="615.60" y2="546.70" stroke="#000" stroke-width="1.9"/>
<line x1="560.60" y1="592.00" x2="615.60" y2="592.00" stroke="#000" stroke-width="2.6"/>
<line x1="691.60" y1="388.70" x2="747.80" y2="388.70" stroke="#000" stroke-width="1.9"/>
<line x1="719.80" y1="388.70" x2="719.80" y2="431.40" stroke="#000" stroke-width="1.9"/>
<rect x="691.9" y="431.4" width="55.7" height="156.1" fill="none" stroke="#000" stroke-width="1.9"/>
<line x1="691.90" y1="569.30" x2="747.60" y2="569.30" stroke="#000" stroke-width="1.9"/>
<line x1="719.80" y1="587.50" x2="719.80" y2="600.00" stroke="#000" stroke-width="1.9"/>
<line x1="691.60" y1="600.00" x2="747.80" y2="600.00" stroke="#000" stroke-width="1.9"/>
<text x="589.00" y="639.50" font-family='"Liberation Sans", sans-serif' font-size="20.5" text-anchor="middle" font-weight="bold" textLength="51" lengthAdjust="spacingAndGlyphs">Male</text>
<text x="720.20" y="639.50" font-family='"Liberation Sans", sans-serif' font-size="20.5" text-anchor="middle" font-weight="bold" textLength="73" lengthAdjust="spacingAndGlyphs">Female</text>
</svg>
</body></html>
